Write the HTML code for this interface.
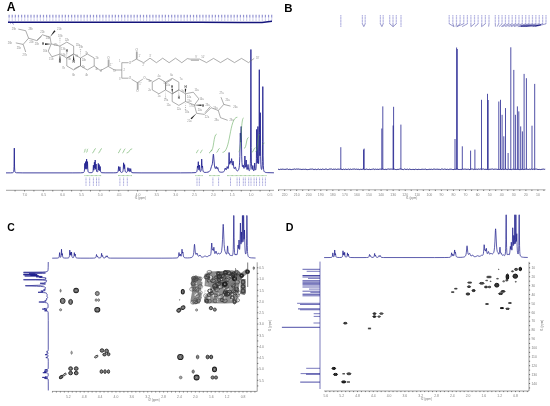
<!DOCTYPE html>
<html><head><meta charset="utf-8"><style>
html,body{margin:0;padding:0;background:#fff;}
svg{display:block;font-family:"Liberation Sans", sans-serif;}
text{opacity:0.99;}
</style></head><body>
<svg width="550" height="406" viewBox="0 0 550 406">
<defs><filter id="bl" x="-5%" y="-5%" width="110%" height="110%"><feGaussianBlur stdDeviation="0.35"/></filter></defs>
<rect width="550" height="406" fill="#fff"/>
<text x="6.7" y="10.9" font-size="12.2" fill="#000" font-weight="bold" text-anchor="start" >A</text>
<text x="284.2" y="11.9" font-size="11.4" fill="#000" font-weight="bold" text-anchor="start" >B</text>
<text x="7.2" y="230.8" font-size="10.4" fill="#000" font-weight="bold" text-anchor="start" >C</text>
<text x="285.8" y="230.5" font-size="10.7" fill="#000" font-weight="bold" text-anchor="start" >D</text>
<line x1="6" y1="190.3" x2="274" y2="190.3" stroke="#8a8a8a" stroke-width="0.8" />
<line x1="15.07" y1="190.3" x2="15.07" y2="191.4" stroke="#333" stroke-width="0.7" />
<line x1="24.5" y1="190.3" x2="24.5" y2="191.4" stroke="#333" stroke-width="0.7" />
<line x1="33.92" y1="190.3" x2="33.92" y2="191.4" stroke="#333" stroke-width="0.7" />
<line x1="43.35" y1="190.3" x2="43.35" y2="191.4" stroke="#333" stroke-width="0.7" />
<line x1="52.78" y1="190.3" x2="52.78" y2="191.4" stroke="#333" stroke-width="0.7" />
<line x1="62.2" y1="190.3" x2="62.2" y2="191.4" stroke="#333" stroke-width="0.7" />
<line x1="71.62" y1="190.3" x2="71.62" y2="191.4" stroke="#333" stroke-width="0.7" />
<line x1="81.05" y1="190.3" x2="81.05" y2="191.4" stroke="#333" stroke-width="0.7" />
<line x1="90.48" y1="190.3" x2="90.48" y2="191.4" stroke="#333" stroke-width="0.7" />
<line x1="99.9" y1="190.3" x2="99.9" y2="191.4" stroke="#333" stroke-width="0.7" />
<line x1="109.33" y1="190.3" x2="109.33" y2="191.4" stroke="#333" stroke-width="0.7" />
<line x1="118.75" y1="190.3" x2="118.75" y2="191.4" stroke="#333" stroke-width="0.7" />
<line x1="128.18" y1="190.3" x2="128.18" y2="191.4" stroke="#333" stroke-width="0.7" />
<line x1="137.6" y1="190.3" x2="137.6" y2="191.4" stroke="#333" stroke-width="0.7" />
<line x1="147.03" y1="190.3" x2="147.03" y2="191.4" stroke="#333" stroke-width="0.7" />
<line x1="156.45" y1="190.3" x2="156.45" y2="191.4" stroke="#333" stroke-width="0.7" />
<line x1="165.88" y1="190.3" x2="165.88" y2="191.4" stroke="#333" stroke-width="0.7" />
<line x1="175.3" y1="190.3" x2="175.3" y2="191.4" stroke="#333" stroke-width="0.7" />
<line x1="184.73" y1="190.3" x2="184.73" y2="191.4" stroke="#333" stroke-width="0.7" />
<line x1="194.15" y1="190.3" x2="194.15" y2="191.4" stroke="#333" stroke-width="0.7" />
<line x1="203.58" y1="190.3" x2="203.58" y2="191.4" stroke="#333" stroke-width="0.7" />
<line x1="213" y1="190.3" x2="213" y2="191.4" stroke="#333" stroke-width="0.7" />
<line x1="222.43" y1="190.3" x2="222.43" y2="191.4" stroke="#333" stroke-width="0.7" />
<line x1="231.85" y1="190.3" x2="231.85" y2="191.4" stroke="#333" stroke-width="0.7" />
<line x1="241.28" y1="190.3" x2="241.28" y2="191.4" stroke="#333" stroke-width="0.7" />
<line x1="250.7" y1="190.3" x2="250.7" y2="191.4" stroke="#333" stroke-width="0.7" />
<line x1="260.12" y1="190.3" x2="260.12" y2="191.4" stroke="#333" stroke-width="0.7" />
<line x1="269.55" y1="190.3" x2="269.55" y2="191.4" stroke="#333" stroke-width="0.7" />
<text x="24.9" y="196.3" font-size="3.5" fill="#888" font-weight="normal" text-anchor="middle" >7.0</text>
<text x="43.75" y="196.3" font-size="3.5" fill="#888" font-weight="normal" text-anchor="middle" >6.5</text>
<text x="62.6" y="196.3" font-size="3.5" fill="#888" font-weight="normal" text-anchor="middle" >6.0</text>
<text x="81.45" y="196.3" font-size="3.5" fill="#888" font-weight="normal" text-anchor="middle" >5.5</text>
<text x="100.3" y="196.3" font-size="3.5" fill="#888" font-weight="normal" text-anchor="middle" >5.0</text>
<text x="119.15" y="196.3" font-size="3.5" fill="#888" font-weight="normal" text-anchor="middle" >4.5</text>
<text x="138" y="196.3" font-size="3.5" fill="#888" font-weight="normal" text-anchor="middle" >4.0</text>
<text x="156.85" y="196.3" font-size="3.5" fill="#888" font-weight="normal" text-anchor="middle" >3.5</text>
<text x="175.7" y="196.3" font-size="3.5" fill="#888" font-weight="normal" text-anchor="middle" >3.0</text>
<text x="194.55" y="196.3" font-size="3.5" fill="#888" font-weight="normal" text-anchor="middle" >2.5</text>
<text x="213.4" y="196.3" font-size="3.5" fill="#888" font-weight="normal" text-anchor="middle" >2.0</text>
<text x="232.25" y="196.3" font-size="3.5" fill="#888" font-weight="normal" text-anchor="middle" >1.5</text>
<text x="251.1" y="196.3" font-size="3.5" fill="#888" font-weight="normal" text-anchor="middle" >1.0</text>
<text x="269.95" y="196.3" font-size="3.5" fill="#888" font-weight="normal" text-anchor="middle" >0.5</text>
<text x="140.4" y="199.2" font-size="3.0" fill="#777" font-weight="normal" text-anchor="middle" >f1 (ppm)</text>
<path d="M6,172.89 10.55,172.86 12.3,172.76 12.8,172.65 13.15,172.48 13.4,172.23 13.6,171.81 13.75,171.18 13.9,169.84 14.05,166.33 14.3,148.1 14.5,163.97 14.6,167.94 14.75,170.42 14.95,171.64 15.2,172.23 15.65,172.6 16.5,172.78 22.8,172.89 72.85,172.88 80.45,172.83 83,172.66 83.55,172.49 83.9,172.23 84.15,171.82 84.3,171.31 84.55,168.97 84.8,163.4 85.05,168.03 85.15,168.75 85.2,168.78 85.25,168.59 85.6,161.6 85.9,168.34 86,169.14 86.05,169.29 86.15,169.16 86.35,166.76 86.6,159.1 86.85,166.64 87,168.59 87.1,168.76 87.15,168.56 87.25,167.45 87.5,161.6 87.75,168.26 88,171.05 88.2,171.77 88.5,172.23 88.95,172.5 89.65,172.64 90.85,172.68 91.85,172.58 92.4,172.38 92.75,171.97 92.95,171.36 93.1,170.29 93.4,165.2 93.65,169.19 93.75,169.98 93.8,170.16 93.9,170.2 94.05,169.44 94.15,168.13 94.4,162.2 94.65,167.39 94.8,168.22 94.95,166.75 95.2,160 95.45,167.1 95.6,169.01 95.65,169.23 95.7,169.28 95.75,169.17 95.85,168.4 96.1,164 96.4,169.81 96.55,171.01 96.75,171.68 97.05,172.01 97.4,171.99 97.65,171.69 97.85,170.99 98.05,168.95 98.3,163.4 98.55,168.54 98.7,169.84 98.75,169.94 98.8,169.91 98.85,169.75 98.95,168.92 99.2,164.6 99.45,169.2 99.65,170.68 99.75,170.79 99.8,170.72 99.9,170.28 100.2,166.5 100.45,170.25 100.7,171.82 100.85,172.16 101.1,172.43 101.45,172.6 102,172.72 105.1,172.84 113.2,172.84 115.95,172.76 117.2,172.56 117.5,172.4 117.75,172.15 118.1,171.25 118.3,169.84 118.6,166.5 118.95,170 119.15,170.87 119.25,170.97 119.35,170.89 119.5,170.39 119.9,166.8 120.25,170.37 120.55,171.74 120.8,172.14 121.15,172.35 121.65,172.42 122.15,172.31 122.5,172.06 122.75,171.69 122.95,171.1 123.1,170.28 123.3,168.06 123.6,162.8 123.9,167.36 124.05,168.62 124.15,168.76 124.25,168.39 124.6,164.6 124.95,169.47 125.15,170.94 125.3,171.49 125.55,171.97 125.85,172.23 126.25,172.37 126.65,172.35 126.95,172.23 127.2,171.95 127.35,171.62 127.55,170.71 127.9,167.7 128.25,170.46 128.45,171.1 128.6,171.08 128.75,170.64 129.1,168.3 129.55,171.31 129.8,171.8 129.95,171.85 130.05,171.79 130.2,171.55 130.35,171 130.7,168.6 131.05,171.14 131.35,172.12 131.6,172.42 131.9,172.59 133,172.77 141.05,172.88 180.45,172.86 191.25,172.8 195,172.64 195.8,172.48 196.3,172.24 196.65,171.85 196.9,171.24 197.15,169.79 197.5,166 197.8,167.71 197.85,167.78 197.9,167.68 197.95,167.4 198.3,161.7 198.6,167.69 198.85,169.79 198.9,169.91 199,169.92 199.15,169.33 199.5,165.2 199.8,169.33 200,170.76 200.2,171.32 200.4,171.51 200.65,171.46 200.85,171.19 201.1,170.34 201.3,168.6 201.7,159.1 202.1,167.03 202.15,167.26 202.2,167.31 202.25,167.18 202.5,166 202.85,169.72 203.15,171.29 203.5,171.92 204.1,172.28 205.1,172.41 206.55,172.36 208.1,172.08 209.2,171.58 209.95,170.83 210.55,169.64 211.5,166.29 212.1,164.83 212.35,163.81 212.7,161.02 213.2,155.08 213.3,154.4 213.4,154.2 213.6,155.33 214.4,165.06 214.75,167.21 215.1,168.3 215.35,168.58 215.6,168.43 216.15,166.69 216.3,166.5 216.45,166.8 216.85,168.45 217.1,168.9 217.25,168.84 217.35,168.66 217.7,167.55 217.8,167.5 217.85,167.59 218.45,170.42 218.75,171.15 219.1,171.6 219.6,171.92 220.3,172.12 221.25,172.22 222.25,172.2 223.4,171.93 223.8,171.67 224.1,171.34 224.5,170.5 225.05,168.3 225.2,168 225.35,168.15 225.85,169.62 226.05,169.84 226.25,169.79 226.55,169.15 227.05,166.84 227.2,166.5 227.35,166.71 227.85,168.53 228.05,168.71 228.25,168.4 228.5,166.99 228.7,164.16 229.1,152.5 229.45,161.62 229.55,163.21 229.7,164.24 229.8,164.31 229.9,164.01 230.25,161.59 230.4,161 230.55,161.24 230.85,162.62 230.95,162.76 231.05,162.59 231.5,158.86 231.6,158.6 231.75,159.62 232.1,163.87 232.35,165.14 232.45,165.15 232.6,164.63 232.95,161.65 233.1,161.1 233.25,162.01 233.7,166.85 234.05,168.43 234.25,168.69 234.5,168.58 235.1,167.17 235.3,167 235.5,167.34 236.05,169.3 236.45,170.23 236.95,170.76 237.25,170.87 237.55,170.86 237.9,170.7 238.25,170.36 238.75,169.33 239.1,167.8 239.4,165.24 239.6,162.11 239.8,156.68 240.25,134 240.35,132.98 240.6,140.32 240.75,142.14 240.85,140.44 241.1,128.36 241.2,126.5 241.7,156.17 241.95,162.63 242.3,166.13 242.45,166.66 242.55,166.79 242.65,166.75 243.1,165.09 243.2,165 243.8,168.1 244,168.41 244.2,168.08 244.35,167.21 244.5,165.42 244.9,156 245.25,164.35 245.5,167.05 245.55,167.2 245.6,167.25 245.65,167.19 245.8,166.33 246.2,160 246.6,167.2 246.9,169.3 247,169.54 247.15,169.62 247.4,169.11 248,164.5 248.6,169.48 248.75,170.06 248.95,170.47 249.15,170.63 249.35,170.6 249.6,170.31 249.85,169.58 250.15,167.39 250.35,163.65 250.5,157.04 250.7,128.01 250.9,49.5 251.2,147.6 251.4,161.95 251.6,166.61 251.85,168.81 252.1,169.51 252.25,169.45 252.35,169.17 252.8,165.5 253.3,170.02 253.6,170.76 253.8,170.83 254,170.61 254.2,169.93 254.35,168.76 254.7,163 255,167.94 255.2,169.58 255.4,170.06 255.5,170.08 255.6,170 255.8,169.5 256,168.33 256.25,164.53 256.4,158.5 256.7,129.4 257,157.11 257.15,162.12 257.25,163.18 257.3,163.26 257.35,163.06 257.5,160.47 257.6,156.18 257.9,126.5 258.25,158.7 258.45,163.33 258.5,163.67 258.55,163.8 258.6,163.72 258.7,162.9 258.9,157.17 259.05,143.23 259.3,69.7 259.5,132.48 259.65,151.41 259.75,155.23 259.8,155.79 259.85,155.6 260,150.02 260.3,112.7 260.65,156.74 260.85,164.38 261.15,168.18 261.35,169.13 261.6,169.53 261.8,169.38 262,168.64 262.25,165.88 262.4,161.37 262.6,141.25 262.8,86.6 263.1,155.15 263.3,165.26 263.6,169.49 263.85,170.73 264.15,171.45 264.6,171.96 265.3,172.31 266.3,172.53 267.85,172.67 273.95,172.81" fill="none" stroke="#1f1f8f" stroke-width="0.85" stroke-linejoin="round"/>
<line x1="278" y1="189.8" x2="545.5" y2="189.8" stroke="#999" stroke-width="0.8" />
<line x1="278.57" y1="189.8" x2="278.57" y2="190.9" stroke="#333" stroke-width="0.7" />
<line x1="284.6" y1="189.8" x2="284.6" y2="190.9" stroke="#333" stroke-width="0.7" />
<line x1="290.63" y1="189.8" x2="290.63" y2="190.9" stroke="#333" stroke-width="0.7" />
<line x1="296.66" y1="189.8" x2="296.66" y2="190.9" stroke="#333" stroke-width="0.7" />
<line x1="302.69" y1="189.8" x2="302.69" y2="190.9" stroke="#333" stroke-width="0.7" />
<line x1="308.73" y1="189.8" x2="308.73" y2="190.9" stroke="#333" stroke-width="0.7" />
<line x1="314.76" y1="189.8" x2="314.76" y2="190.9" stroke="#333" stroke-width="0.7" />
<line x1="320.79" y1="189.8" x2="320.79" y2="190.9" stroke="#333" stroke-width="0.7" />
<line x1="326.82" y1="189.8" x2="326.82" y2="190.9" stroke="#333" stroke-width="0.7" />
<line x1="332.85" y1="189.8" x2="332.85" y2="190.9" stroke="#333" stroke-width="0.7" />
<line x1="338.88" y1="189.8" x2="338.88" y2="190.9" stroke="#333" stroke-width="0.7" />
<line x1="344.92" y1="189.8" x2="344.92" y2="190.9" stroke="#333" stroke-width="0.7" />
<line x1="350.95" y1="189.8" x2="350.95" y2="190.9" stroke="#333" stroke-width="0.7" />
<line x1="356.98" y1="189.8" x2="356.98" y2="190.9" stroke="#333" stroke-width="0.7" />
<line x1="363.01" y1="189.8" x2="363.01" y2="190.9" stroke="#333" stroke-width="0.7" />
<line x1="369.04" y1="189.8" x2="369.04" y2="190.9" stroke="#333" stroke-width="0.7" />
<line x1="375.07" y1="189.8" x2="375.07" y2="190.9" stroke="#333" stroke-width="0.7" />
<line x1="381.1" y1="189.8" x2="381.1" y2="190.9" stroke="#333" stroke-width="0.7" />
<line x1="387.14" y1="189.8" x2="387.14" y2="190.9" stroke="#333" stroke-width="0.7" />
<line x1="393.17" y1="189.8" x2="393.17" y2="190.9" stroke="#333" stroke-width="0.7" />
<line x1="399.2" y1="189.8" x2="399.2" y2="190.9" stroke="#333" stroke-width="0.7" />
<line x1="405.23" y1="189.8" x2="405.23" y2="190.9" stroke="#333" stroke-width="0.7" />
<line x1="411.26" y1="189.8" x2="411.26" y2="190.9" stroke="#333" stroke-width="0.7" />
<line x1="417.29" y1="189.8" x2="417.29" y2="190.9" stroke="#333" stroke-width="0.7" />
<line x1="423.32" y1="189.8" x2="423.32" y2="190.9" stroke="#333" stroke-width="0.7" />
<line x1="429.36" y1="189.8" x2="429.36" y2="190.9" stroke="#333" stroke-width="0.7" />
<line x1="435.39" y1="189.8" x2="435.39" y2="190.9" stroke="#333" stroke-width="0.7" />
<line x1="441.42" y1="189.8" x2="441.42" y2="190.9" stroke="#333" stroke-width="0.7" />
<line x1="447.45" y1="189.8" x2="447.45" y2="190.9" stroke="#333" stroke-width="0.7" />
<line x1="453.48" y1="189.8" x2="453.48" y2="190.9" stroke="#333" stroke-width="0.7" />
<line x1="459.51" y1="189.8" x2="459.51" y2="190.9" stroke="#333" stroke-width="0.7" />
<line x1="465.55" y1="189.8" x2="465.55" y2="190.9" stroke="#333" stroke-width="0.7" />
<line x1="471.58" y1="189.8" x2="471.58" y2="190.9" stroke="#333" stroke-width="0.7" />
<line x1="477.61" y1="189.8" x2="477.61" y2="190.9" stroke="#333" stroke-width="0.7" />
<line x1="483.64" y1="189.8" x2="483.64" y2="190.9" stroke="#333" stroke-width="0.7" />
<line x1="489.67" y1="189.8" x2="489.67" y2="190.9" stroke="#333" stroke-width="0.7" />
<line x1="495.7" y1="189.8" x2="495.7" y2="190.9" stroke="#333" stroke-width="0.7" />
<line x1="501.73" y1="189.8" x2="501.73" y2="190.9" stroke="#333" stroke-width="0.7" />
<line x1="507.77" y1="189.8" x2="507.77" y2="190.9" stroke="#333" stroke-width="0.7" />
<line x1="513.8" y1="189.8" x2="513.8" y2="190.9" stroke="#333" stroke-width="0.7" />
<line x1="519.83" y1="189.8" x2="519.83" y2="190.9" stroke="#333" stroke-width="0.7" />
<line x1="525.86" y1="189.8" x2="525.86" y2="190.9" stroke="#333" stroke-width="0.7" />
<line x1="531.89" y1="189.8" x2="531.89" y2="190.9" stroke="#333" stroke-width="0.7" />
<line x1="537.92" y1="189.8" x2="537.92" y2="190.9" stroke="#333" stroke-width="0.7" />
<line x1="543.95" y1="189.8" x2="543.95" y2="190.9" stroke="#333" stroke-width="0.7" />
<text x="284.6" y="196.2" font-size="3.5" fill="#888" font-weight="normal" text-anchor="middle" >220</text>
<text x="296.66" y="196.2" font-size="3.5" fill="#888" font-weight="normal" text-anchor="middle" >210</text>
<text x="308.73" y="196.2" font-size="3.5" fill="#888" font-weight="normal" text-anchor="middle" >200</text>
<text x="320.79" y="196.2" font-size="3.5" fill="#888" font-weight="normal" text-anchor="middle" >190</text>
<text x="332.85" y="196.2" font-size="3.5" fill="#888" font-weight="normal" text-anchor="middle" >180</text>
<text x="344.92" y="196.2" font-size="3.5" fill="#888" font-weight="normal" text-anchor="middle" >170</text>
<text x="356.98" y="196.2" font-size="3.5" fill="#888" font-weight="normal" text-anchor="middle" >160</text>
<text x="369.04" y="196.2" font-size="3.5" fill="#888" font-weight="normal" text-anchor="middle" >150</text>
<text x="381.1" y="196.2" font-size="3.5" fill="#888" font-weight="normal" text-anchor="middle" >140</text>
<text x="393.17" y="196.2" font-size="3.5" fill="#888" font-weight="normal" text-anchor="middle" >130</text>
<text x="405.23" y="196.2" font-size="3.5" fill="#888" font-weight="normal" text-anchor="middle" >120</text>
<text x="417.29" y="196.2" font-size="3.5" fill="#888" font-weight="normal" text-anchor="middle" >110</text>
<text x="429.36" y="196.2" font-size="3.5" fill="#888" font-weight="normal" text-anchor="middle" >100</text>
<text x="441.42" y="196.2" font-size="3.5" fill="#888" font-weight="normal" text-anchor="middle" >90</text>
<text x="453.48" y="196.2" font-size="3.5" fill="#888" font-weight="normal" text-anchor="middle" >80</text>
<text x="465.55" y="196.2" font-size="3.5" fill="#888" font-weight="normal" text-anchor="middle" >70</text>
<text x="477.61" y="196.2" font-size="3.5" fill="#888" font-weight="normal" text-anchor="middle" >60</text>
<text x="489.67" y="196.2" font-size="3.5" fill="#888" font-weight="normal" text-anchor="middle" >50</text>
<text x="501.73" y="196.2" font-size="3.5" fill="#888" font-weight="normal" text-anchor="middle" >40</text>
<text x="513.8" y="196.2" font-size="3.5" fill="#888" font-weight="normal" text-anchor="middle" >30</text>
<text x="525.86" y="196.2" font-size="3.5" fill="#888" font-weight="normal" text-anchor="middle" >20</text>
<text x="537.92" y="196.2" font-size="3.5" fill="#888" font-weight="normal" text-anchor="middle" >10</text>
<text x="411.8" y="199.2" font-size="3.0" fill="#777" font-weight="normal" text-anchor="middle" >f1 (ppm)</text>
<path d="M278,169.27 278.8,169.34 279.6,169.55 280.4,169.28 281.2,169.3 282,169.35 282.8,169.11 283.6,169.31 284.4,169.38 285.2,169.48 286,169.06 286.8,169.18 287.6,169.05 288.4,169.49 289.2,169.42 290,169.03 290.8,169.59 291.6,169.58 292.4,169.39 293.2,169.37 294,169.09 294.8,169.01 295.6,169.32 296.4,169.04 297.2,169.11 298,169.15 298.8,169.02 299.6,169.28 300.4,169.26 301.2,169.51 302,169.31 302.8,169.38 303.6,169.3 304.4,169.4 305.2,169.27 306,169.17 306.8,169.6 307.6,169.6 308.4,169.5 309.2,169.42 310,169.19 310.8,169.14 311.6,169.17 312.4,169.04 313.2,169.46 314,169.24 314.8,169.51 315.6,169.23 316.4,169.57 317.2,169.51 318,169 318.8,169.13 319.6,169.55 320.4,169.28 321.2,169.59 322,169.24 322.8,169.04 323.6,169.38 324.4,169.47 325.2,169.16 326,169.05 326.8,169.2 327.6,169.58 328.4,169.45 329.2,169.07 330,169.15 330.8,169.06 331.6,169.04 332.4,169.48 333.2,169.11 334,169.34 334.8,169.27 335.6,169.11 336.4,169.44 337.2,169.08 338,169.39 338.8,169.07 339.6,169.25 340.4,169.13 341.2,169.16 342,169.58 342.8,169.48 343.6,169.18 344.4,169.53 345.2,169.13 346,169.24 346.8,169.51 347.6,169.39 348.4,169.06 349.2,169.59 350,169.13 350.8,169.15 351.6,169.46 352.4,169.2 353.2,169.18 354,169.04 354.8,169.05 355.6,169.35 356.4,169.15 357.2,169.36 358,169.22 358.8,169.27 359.6,169.58 360.4,169.29 361.2,169.34 362,169.52 362.8,169.11 363.6,169.09 364.4,169.55 365.2,169.49 366,169.15 366.8,169.11 367.6,169.44 368.4,169.56 369.2,169.12 370,169.57 370.8,169.53 371.6,169.36 372.4,169.25 373.2,169.06 374,169.02 374.8,169.58 375.6,169.14 376.4,169.42 377.2,169.15 378,169.49 378.8,169.36 379.6,169.18 380.4,169.11 381.2,169.43 382,169.04 382.8,169.14 383.6,169.34 384.4,169.51 385.2,169.37 386,169.17 386.8,169.55 387.6,169.12 388.4,169.01 389.2,169.16 390,169.27 390.8,169.04 391.6,169.11 392.4,169.22 393.2,169.34 394,169.08 394.8,169.22 395.6,169.53 396.4,169.59 397.2,169.39 398,169.41 398.8,169.35 399.6,169.08 400.4,169.02 401.2,169.01 402,169.55 402.8,169.42 403.6,169.58 404.4,169.01 405.2,169.38 406,169.29 406.8,169.44 407.6,169.19 408.4,169.6 409.2,169.05 410,169.33 410.8,169.44 411.6,169.54 412.4,169.44 413.2,169.42 414,169.48 414.8,169.55 415.6,169.21 416.4,169.41 417.2,169.54 418,169.52 418.8,169.25 419.6,169.47 420.4,169.52 421.2,169.34 422,169.37 422.8,169.23 423.6,169.35 424.4,169.37 425.2,169.05 426,169.38 426.8,169.6 427.6,169.53 428.4,169.44 429.2,169.23 430,169.44 430.8,169.35 431.6,169.26 432.4,169.5 433.2,169.05 434,169.45 434.8,169.02 435.6,169.36 436.4,169.29 437.2,169.14 438,169.42 438.8,169.3 439.6,169.37 440.4,169.55 441.2,169.15 442,169.01 442.8,169.18 443.6,169.41 444.4,169.12 445.2,169.1 446,169.54 446.8,169.4 447.6,169.27 448.4,169.54 449.2,169.2 450,169.4 450.8,169.12 451.6,169.26 452.4,169.48 453.2,169.55 454,169.53 454.8,169.23 455.6,169.35 456.4,169.19 457.2,169.08 458,169.3 458.8,169.5 459.6,169.51 460.4,169.43 461.2,169.57 462,169.17 462.8,169.1 463.6,169.27 464.4,169.17 465.2,169.13 466,169.25 466.8,169.38 467.6,169.3 468.4,169.19 469.2,169.5 470,169.59 470.8,169.27 471.6,169.04 472.4,169.02 473.2,169.52 474,169.02 474.8,169.43 475.6,169.34 476.4,169.19 477.2,169.47 478,169.01 478.8,169.08 479.6,169.27 480.4,169.01 481.2,169.5 482,169.14 482.8,169.08 483.6,169.03 484.4,169.38 485.2,169.27 486,169.38 486.8,169.39 487.6,169.48 488.4,169.58 489.2,169.41 490,169.12 490.8,169.29 491.6,169.11 492.4,169.01 493.2,169.28 494,169.43 494.8,169.11 495.6,169.16 496.4,169.21 497.2,169.42 498,169.31 498.8,169.37 499.6,169.45 500.4,169.24 501.2,169.48 502,169.54 502.8,169.05 503.6,169.56 504.4,169.43 505.2,169.08 506,169.27 506.8,169.38 507.6,169.55 508.4,169.23 509.2,169.34 510,169.53 510.8,169.48 511.6,169.57 512.4,169.28 513.2,169.39 514,169.12 514.8,169.43 515.6,169.49 516.4,169.38 517.2,169.43 518,169.13 518.8,169.54 519.6,169.59 520.4,169.59 521.2,169.32 522,169.47 522.8,169.19 523.6,169.55 524.4,169.51 525.2,169.21 526,169.05 526.8,169.26 527.6,169.33 528.4,169.46 529.2,169.29 530,169.02 530.8,169.49 531.6,169.04 532.4,169.48 533.2,169.1 534,169.2 534.8,169.47 535.6,169.08 536.4,169.09 537.2,169.31 538,169.43 538.8,169.5 539.6,169.41 540.4,169.57 541.2,169.3 542,169.57 542.8,169.05 543.6,169.13 544.4,169.32 545.2,169.17" fill="none" stroke="#10107a" stroke-width="0.9"/>
<path d="M340.8,169.2 L340.8,147.2 M363.5,169.2 L363.5,149.5 M364.2,169.2 L364.2,148.6 M381.8,169.2 L381.8,128.5 M382.8,169.2 L382.8,106.4 M393.1,169.2 L393.1,125.5 M393.6,169.2 L393.6,106.8 M400.9,169.2 L400.9,124.6 M455,169.2 L455,139 M456.6,169.2 L456.6,47.5 M457.3,169.2 L457.3,49 M462.3,169.2 L462.3,146.3 M470.6,169.2 L470.6,150.6 M474.9,169.2 L474.9,149.6 M481.5,169.2 L481.5,99.8 M487.5,169.2 L487.5,93.8 M488.2,169.2 L488.2,100 M498.8,169.2 L498.8,101.5 M500.5,169.2 L500.5,99.8 M502.1,169.2 L502.1,114.8 M503.8,169.2 L503.8,136.3 M505.5,169.2 L505.5,108.1 M508.1,169.2 L508.1,153 M510.8,169.2 L510.8,47.3 M513.8,169.2 L513.8,69.9 M515.4,169.2 L515.4,114.8 M517.4,169.2 L517.4,106.4 M518.8,169.2 L518.8,111.4 M520.7,169.2 L520.7,126.4 M522.4,169.2 L522.4,131.4 M524.1,169.2 L524.1,73.9 M526.4,169.2 L526.4,78.2 M532,169.2 L532,125.7 M534.7,169.2 L534.7,83.9 " fill="none" stroke="#16168a" stroke-width="0.75"/>
<line x1="257.2" y1="262.3" x2="257.2" y2="391.4" stroke="#606060" stroke-width="0.6" />
<line x1="52.2" y1="391.4" x2="257.2" y2="391.4" stroke="#606060" stroke-width="0.6" />
<text x="259.2" y="269" font-size="3.4" fill="#808080" font-weight="normal" text-anchor="start" >0.5</text>
<text x="259.2" y="280.25" font-size="3.4" fill="#808080" font-weight="normal" text-anchor="start" >1.0</text>
<text x="259.2" y="291.5" font-size="3.4" fill="#808080" font-weight="normal" text-anchor="start" >1.5</text>
<text x="259.2" y="302.75" font-size="3.4" fill="#808080" font-weight="normal" text-anchor="start" >2.0</text>
<text x="259.2" y="314" font-size="3.4" fill="#808080" font-weight="normal" text-anchor="start" >2.5</text>
<text x="259.2" y="325.25" font-size="3.4" fill="#808080" font-weight="normal" text-anchor="start" >3.0</text>
<text x="259.2" y="336.5" font-size="3.4" fill="#808080" font-weight="normal" text-anchor="start" >3.5</text>
<text x="259.2" y="347.75" font-size="3.4" fill="#808080" font-weight="normal" text-anchor="start" >4.0</text>
<text x="259.2" y="359" font-size="3.4" fill="#808080" font-weight="normal" text-anchor="start" >4.5</text>
<text x="259.2" y="370.25" font-size="3.4" fill="#808080" font-weight="normal" text-anchor="start" >5.0</text>
<text x="259.2" y="381.5" font-size="3.4" fill="#808080" font-weight="normal" text-anchor="start" >5.5</text>
<line x1="257.2" y1="267.8" x2="258.3" y2="267.8" stroke="#333" stroke-width="0.7" />
<line x1="257.2" y1="273.43" x2="258.3" y2="273.43" stroke="#333" stroke-width="0.7" />
<line x1="257.2" y1="279.05" x2="258.3" y2="279.05" stroke="#333" stroke-width="0.7" />
<line x1="257.2" y1="284.68" x2="258.3" y2="284.68" stroke="#333" stroke-width="0.7" />
<line x1="257.2" y1="290.3" x2="258.3" y2="290.3" stroke="#333" stroke-width="0.7" />
<line x1="257.2" y1="295.93" x2="258.3" y2="295.93" stroke="#333" stroke-width="0.7" />
<line x1="257.2" y1="301.55" x2="258.3" y2="301.55" stroke="#333" stroke-width="0.7" />
<line x1="257.2" y1="307.18" x2="258.3" y2="307.18" stroke="#333" stroke-width="0.7" />
<line x1="257.2" y1="312.8" x2="258.3" y2="312.8" stroke="#333" stroke-width="0.7" />
<line x1="257.2" y1="318.43" x2="258.3" y2="318.43" stroke="#333" stroke-width="0.7" />
<line x1="257.2" y1="324.05" x2="258.3" y2="324.05" stroke="#333" stroke-width="0.7" />
<line x1="257.2" y1="329.68" x2="258.3" y2="329.68" stroke="#333" stroke-width="0.7" />
<line x1="257.2" y1="335.3" x2="258.3" y2="335.3" stroke="#333" stroke-width="0.7" />
<line x1="257.2" y1="340.93" x2="258.3" y2="340.93" stroke="#333" stroke-width="0.7" />
<line x1="257.2" y1="346.55" x2="258.3" y2="346.55" stroke="#333" stroke-width="0.7" />
<line x1="257.2" y1="352.18" x2="258.3" y2="352.18" stroke="#333" stroke-width="0.7" />
<line x1="257.2" y1="357.8" x2="258.3" y2="357.8" stroke="#333" stroke-width="0.7" />
<line x1="257.2" y1="363.43" x2="258.3" y2="363.43" stroke="#333" stroke-width="0.7" />
<line x1="257.2" y1="369.05" x2="258.3" y2="369.05" stroke="#333" stroke-width="0.7" />
<line x1="257.2" y1="374.68" x2="258.3" y2="374.68" stroke="#333" stroke-width="0.7" />
<line x1="257.2" y1="380.3" x2="258.3" y2="380.3" stroke="#333" stroke-width="0.7" />
<line x1="257.2" y1="385.93" x2="258.3" y2="385.93" stroke="#333" stroke-width="0.7" />
<text x="68.32" y="397.6" font-size="3.4" fill="#808080" font-weight="normal" text-anchor="middle" >5.2</text>
<text x="84.2" y="397.6" font-size="3.4" fill="#808080" font-weight="normal" text-anchor="middle" >4.8</text>
<text x="100.08" y="397.6" font-size="3.4" fill="#808080" font-weight="normal" text-anchor="middle" >4.4</text>
<text x="115.96" y="397.6" font-size="3.4" fill="#808080" font-weight="normal" text-anchor="middle" >4.0</text>
<text x="131.84" y="397.6" font-size="3.4" fill="#808080" font-weight="normal" text-anchor="middle" >3.6</text>
<text x="147.72" y="397.6" font-size="3.4" fill="#808080" font-weight="normal" text-anchor="middle" >3.2</text>
<text x="163.6" y="397.6" font-size="3.4" fill="#808080" font-weight="normal" text-anchor="middle" >2.8</text>
<text x="179.48" y="397.6" font-size="3.4" fill="#808080" font-weight="normal" text-anchor="middle" >2.4</text>
<text x="195.36" y="397.6" font-size="3.4" fill="#808080" font-weight="normal" text-anchor="middle" >2.0</text>
<text x="211.24" y="397.6" font-size="3.4" fill="#808080" font-weight="normal" text-anchor="middle" >1.6</text>
<text x="227.12" y="397.6" font-size="3.4" fill="#808080" font-weight="normal" text-anchor="middle" >1.2</text>
<text x="243" y="397.6" font-size="3.4" fill="#808080" font-weight="normal" text-anchor="middle" >0.8</text>
<line x1="254.91" y1="391.4" x2="254.91" y2="392.5" stroke="#333" stroke-width="0.6" />
<line x1="250.94" y1="391.4" x2="250.94" y2="392.5" stroke="#333" stroke-width="0.6" />
<line x1="246.97" y1="391.4" x2="246.97" y2="392.5" stroke="#333" stroke-width="0.6" />
<line x1="243" y1="391.4" x2="243" y2="392.5" stroke="#333" stroke-width="0.6" />
<line x1="239.03" y1="391.4" x2="239.03" y2="392.5" stroke="#333" stroke-width="0.6" />
<line x1="235.06" y1="391.4" x2="235.06" y2="392.5" stroke="#333" stroke-width="0.6" />
<line x1="231.09" y1="391.4" x2="231.09" y2="392.5" stroke="#333" stroke-width="0.6" />
<line x1="227.12" y1="391.4" x2="227.12" y2="392.5" stroke="#333" stroke-width="0.6" />
<line x1="223.15" y1="391.4" x2="223.15" y2="392.5" stroke="#333" stroke-width="0.6" />
<line x1="219.18" y1="391.4" x2="219.18" y2="392.5" stroke="#333" stroke-width="0.6" />
<line x1="215.21" y1="391.4" x2="215.21" y2="392.5" stroke="#333" stroke-width="0.6" />
<line x1="211.24" y1="391.4" x2="211.24" y2="392.5" stroke="#333" stroke-width="0.6" />
<line x1="207.27" y1="391.4" x2="207.27" y2="392.5" stroke="#333" stroke-width="0.6" />
<line x1="203.3" y1="391.4" x2="203.3" y2="392.5" stroke="#333" stroke-width="0.6" />
<line x1="199.33" y1="391.4" x2="199.33" y2="392.5" stroke="#333" stroke-width="0.6" />
<line x1="195.36" y1="391.4" x2="195.36" y2="392.5" stroke="#333" stroke-width="0.6" />
<line x1="191.39" y1="391.4" x2="191.39" y2="392.5" stroke="#333" stroke-width="0.6" />
<line x1="187.42" y1="391.4" x2="187.42" y2="392.5" stroke="#333" stroke-width="0.6" />
<line x1="183.45" y1="391.4" x2="183.45" y2="392.5" stroke="#333" stroke-width="0.6" />
<line x1="179.48" y1="391.4" x2="179.48" y2="392.5" stroke="#333" stroke-width="0.6" />
<line x1="175.51" y1="391.4" x2="175.51" y2="392.5" stroke="#333" stroke-width="0.6" />
<line x1="171.54" y1="391.4" x2="171.54" y2="392.5" stroke="#333" stroke-width="0.6" />
<line x1="167.57" y1="391.4" x2="167.57" y2="392.5" stroke="#333" stroke-width="0.6" />
<line x1="163.6" y1="391.4" x2="163.6" y2="392.5" stroke="#333" stroke-width="0.6" />
<line x1="159.63" y1="391.4" x2="159.63" y2="392.5" stroke="#333" stroke-width="0.6" />
<line x1="155.66" y1="391.4" x2="155.66" y2="392.5" stroke="#333" stroke-width="0.6" />
<line x1="151.69" y1="391.4" x2="151.69" y2="392.5" stroke="#333" stroke-width="0.6" />
<line x1="147.72" y1="391.4" x2="147.72" y2="392.5" stroke="#333" stroke-width="0.6" />
<line x1="143.75" y1="391.4" x2="143.75" y2="392.5" stroke="#333" stroke-width="0.6" />
<line x1="139.78" y1="391.4" x2="139.78" y2="392.5" stroke="#333" stroke-width="0.6" />
<line x1="135.81" y1="391.4" x2="135.81" y2="392.5" stroke="#333" stroke-width="0.6" />
<line x1="131.84" y1="391.4" x2="131.84" y2="392.5" stroke="#333" stroke-width="0.6" />
<line x1="127.87" y1="391.4" x2="127.87" y2="392.5" stroke="#333" stroke-width="0.6" />
<line x1="123.9" y1="391.4" x2="123.9" y2="392.5" stroke="#333" stroke-width="0.6" />
<line x1="119.93" y1="391.4" x2="119.93" y2="392.5" stroke="#333" stroke-width="0.6" />
<line x1="115.96" y1="391.4" x2="115.96" y2="392.5" stroke="#333" stroke-width="0.6" />
<line x1="111.99" y1="391.4" x2="111.99" y2="392.5" stroke="#333" stroke-width="0.6" />
<line x1="108.02" y1="391.4" x2="108.02" y2="392.5" stroke="#333" stroke-width="0.6" />
<line x1="104.05" y1="391.4" x2="104.05" y2="392.5" stroke="#333" stroke-width="0.6" />
<line x1="100.08" y1="391.4" x2="100.08" y2="392.5" stroke="#333" stroke-width="0.6" />
<line x1="96.11" y1="391.4" x2="96.11" y2="392.5" stroke="#333" stroke-width="0.6" />
<line x1="92.14" y1="391.4" x2="92.14" y2="392.5" stroke="#333" stroke-width="0.6" />
<line x1="88.17" y1="391.4" x2="88.17" y2="392.5" stroke="#333" stroke-width="0.6" />
<line x1="84.2" y1="391.4" x2="84.2" y2="392.5" stroke="#333" stroke-width="0.6" />
<line x1="80.23" y1="391.4" x2="80.23" y2="392.5" stroke="#333" stroke-width="0.6" />
<line x1="76.26" y1="391.4" x2="76.26" y2="392.5" stroke="#333" stroke-width="0.6" />
<line x1="72.29" y1="391.4" x2="72.29" y2="392.5" stroke="#333" stroke-width="0.6" />
<line x1="68.32" y1="391.4" x2="68.32" y2="392.5" stroke="#333" stroke-width="0.6" />
<line x1="64.35" y1="391.4" x2="64.35" y2="392.5" stroke="#333" stroke-width="0.6" />
<line x1="60.38" y1="391.4" x2="60.38" y2="392.5" stroke="#333" stroke-width="0.6" />
<line x1="56.41" y1="391.4" x2="56.41" y2="392.5" stroke="#333" stroke-width="0.6" />
<line x1="52.44" y1="391.4" x2="52.44" y2="392.5" stroke="#333" stroke-width="0.6" />
<text x="154.1" y="400.5" font-size="3.0" fill="#777" font-weight="normal" text-anchor="middle" >f2 (ppm)</text>
<text x="271" y="325.7" font-size="3.0" fill="#777" font-weight="normal" text-anchor="middle" transform="rotate(-90 271.0 325.7)">f1 (ppm)</text>
<line x1="529" y1="261.8" x2="529" y2="391" stroke="#606060" stroke-width="0.6" />
<line x1="324.1" y1="391" x2="529" y2="391" stroke="#606060" stroke-width="0.6" />
<text x="531.4" y="269" font-size="3.4" fill="#808080" font-weight="normal" text-anchor="start" >10</text>
<text x="531.4" y="277.9" font-size="3.4" fill="#808080" font-weight="normal" text-anchor="start" >20</text>
<text x="531.4" y="286.8" font-size="3.4" fill="#808080" font-weight="normal" text-anchor="start" >30</text>
<text x="531.4" y="295.7" font-size="3.4" fill="#808080" font-weight="normal" text-anchor="start" >40</text>
<text x="531.4" y="304.6" font-size="3.4" fill="#808080" font-weight="normal" text-anchor="start" >50</text>
<text x="531.4" y="313.5" font-size="3.4" fill="#808080" font-weight="normal" text-anchor="start" >60</text>
<text x="531.4" y="322.4" font-size="3.4" fill="#808080" font-weight="normal" text-anchor="start" >70</text>
<text x="531.4" y="331.3" font-size="3.4" fill="#808080" font-weight="normal" text-anchor="start" >80</text>
<text x="531.4" y="340.2" font-size="3.4" fill="#808080" font-weight="normal" text-anchor="start" >90</text>
<text x="531.4" y="349.1" font-size="3.4" fill="#808080" font-weight="normal" text-anchor="start" >100</text>
<text x="531.4" y="358" font-size="3.4" fill="#808080" font-weight="normal" text-anchor="start" >110</text>
<text x="531.4" y="366.9" font-size="3.4" fill="#808080" font-weight="normal" text-anchor="start" >120</text>
<text x="531.4" y="375.8" font-size="3.4" fill="#808080" font-weight="normal" text-anchor="start" >130</text>
<text x="531.4" y="384.7" font-size="3.4" fill="#808080" font-weight="normal" text-anchor="start" >140</text>
<line x1="529" y1="263.35" x2="530.1" y2="263.35" stroke="#333" stroke-width="0.7" />
<line x1="529" y1="267.8" x2="530.1" y2="267.8" stroke="#333" stroke-width="0.7" />
<line x1="529" y1="272.25" x2="530.1" y2="272.25" stroke="#333" stroke-width="0.7" />
<line x1="529" y1="276.7" x2="530.1" y2="276.7" stroke="#333" stroke-width="0.7" />
<line x1="529" y1="281.15" x2="530.1" y2="281.15" stroke="#333" stroke-width="0.7" />
<line x1="529" y1="285.6" x2="530.1" y2="285.6" stroke="#333" stroke-width="0.7" />
<line x1="529" y1="290.05" x2="530.1" y2="290.05" stroke="#333" stroke-width="0.7" />
<line x1="529" y1="294.5" x2="530.1" y2="294.5" stroke="#333" stroke-width="0.7" />
<line x1="529" y1="298.95" x2="530.1" y2="298.95" stroke="#333" stroke-width="0.7" />
<line x1="529" y1="303.4" x2="530.1" y2="303.4" stroke="#333" stroke-width="0.7" />
<line x1="529" y1="307.85" x2="530.1" y2="307.85" stroke="#333" stroke-width="0.7" />
<line x1="529" y1="312.3" x2="530.1" y2="312.3" stroke="#333" stroke-width="0.7" />
<line x1="529" y1="316.75" x2="530.1" y2="316.75" stroke="#333" stroke-width="0.7" />
<line x1="529" y1="321.2" x2="530.1" y2="321.2" stroke="#333" stroke-width="0.7" />
<line x1="529" y1="325.65" x2="530.1" y2="325.65" stroke="#333" stroke-width="0.7" />
<line x1="529" y1="330.1" x2="530.1" y2="330.1" stroke="#333" stroke-width="0.7" />
<line x1="529" y1="334.55" x2="530.1" y2="334.55" stroke="#333" stroke-width="0.7" />
<line x1="529" y1="339" x2="530.1" y2="339" stroke="#333" stroke-width="0.7" />
<line x1="529" y1="343.45" x2="530.1" y2="343.45" stroke="#333" stroke-width="0.7" />
<line x1="529" y1="347.9" x2="530.1" y2="347.9" stroke="#333" stroke-width="0.7" />
<line x1="529" y1="352.35" x2="530.1" y2="352.35" stroke="#333" stroke-width="0.7" />
<line x1="529" y1="356.8" x2="530.1" y2="356.8" stroke="#333" stroke-width="0.7" />
<line x1="529" y1="361.25" x2="530.1" y2="361.25" stroke="#333" stroke-width="0.7" />
<line x1="529" y1="365.7" x2="530.1" y2="365.7" stroke="#333" stroke-width="0.7" />
<line x1="529" y1="370.15" x2="530.1" y2="370.15" stroke="#333" stroke-width="0.7" />
<line x1="529" y1="374.6" x2="530.1" y2="374.6" stroke="#333" stroke-width="0.7" />
<line x1="529" y1="379.05" x2="530.1" y2="379.05" stroke="#333" stroke-width="0.7" />
<line x1="529" y1="383.5" x2="530.1" y2="383.5" stroke="#333" stroke-width="0.7" />
<line x1="529" y1="387.95" x2="530.1" y2="387.95" stroke="#333" stroke-width="0.7" />
<text x="325.9" y="397" font-size="3.4" fill="#808080" font-weight="normal" text-anchor="middle" >5.6</text>
<text x="341.7" y="397" font-size="3.4" fill="#808080" font-weight="normal" text-anchor="middle" >5.2</text>
<text x="357.5" y="397" font-size="3.4" fill="#808080" font-weight="normal" text-anchor="middle" >4.8</text>
<text x="373.3" y="397" font-size="3.4" fill="#808080" font-weight="normal" text-anchor="middle" >4.4</text>
<text x="389.1" y="397" font-size="3.4" fill="#808080" font-weight="normal" text-anchor="middle" >4.0</text>
<text x="404.9" y="397" font-size="3.4" fill="#808080" font-weight="normal" text-anchor="middle" >3.6</text>
<text x="420.7" y="397" font-size="3.4" fill="#808080" font-weight="normal" text-anchor="middle" >3.2</text>
<text x="436.5" y="397" font-size="3.4" fill="#808080" font-weight="normal" text-anchor="middle" >2.8</text>
<text x="452.3" y="397" font-size="3.4" fill="#808080" font-weight="normal" text-anchor="middle" >2.4</text>
<text x="468.1" y="397" font-size="3.4" fill="#808080" font-weight="normal" text-anchor="middle" >2.0</text>
<text x="483.9" y="397" font-size="3.4" fill="#808080" font-weight="normal" text-anchor="middle" >1.6</text>
<text x="499.7" y="397" font-size="3.4" fill="#808080" font-weight="normal" text-anchor="middle" >1.2</text>
<text x="515.5" y="397" font-size="3.4" fill="#808080" font-weight="normal" text-anchor="middle" >0.8</text>
<line x1="527.35" y1="391" x2="527.35" y2="392.1" stroke="#333" stroke-width="0.6" />
<line x1="523.4" y1="391" x2="523.4" y2="392.1" stroke="#333" stroke-width="0.6" />
<line x1="519.45" y1="391" x2="519.45" y2="392.1" stroke="#333" stroke-width="0.6" />
<line x1="515.5" y1="391" x2="515.5" y2="392.1" stroke="#333" stroke-width="0.6" />
<line x1="511.55" y1="391" x2="511.55" y2="392.1" stroke="#333" stroke-width="0.6" />
<line x1="507.6" y1="391" x2="507.6" y2="392.1" stroke="#333" stroke-width="0.6" />
<line x1="503.65" y1="391" x2="503.65" y2="392.1" stroke="#333" stroke-width="0.6" />
<line x1="499.7" y1="391" x2="499.7" y2="392.1" stroke="#333" stroke-width="0.6" />
<line x1="495.75" y1="391" x2="495.75" y2="392.1" stroke="#333" stroke-width="0.6" />
<line x1="491.8" y1="391" x2="491.8" y2="392.1" stroke="#333" stroke-width="0.6" />
<line x1="487.85" y1="391" x2="487.85" y2="392.1" stroke="#333" stroke-width="0.6" />
<line x1="483.9" y1="391" x2="483.9" y2="392.1" stroke="#333" stroke-width="0.6" />
<line x1="479.95" y1="391" x2="479.95" y2="392.1" stroke="#333" stroke-width="0.6" />
<line x1="476" y1="391" x2="476" y2="392.1" stroke="#333" stroke-width="0.6" />
<line x1="472.05" y1="391" x2="472.05" y2="392.1" stroke="#333" stroke-width="0.6" />
<line x1="468.1" y1="391" x2="468.1" y2="392.1" stroke="#333" stroke-width="0.6" />
<line x1="464.15" y1="391" x2="464.15" y2="392.1" stroke="#333" stroke-width="0.6" />
<line x1="460.2" y1="391" x2="460.2" y2="392.1" stroke="#333" stroke-width="0.6" />
<line x1="456.25" y1="391" x2="456.25" y2="392.1" stroke="#333" stroke-width="0.6" />
<line x1="452.3" y1="391" x2="452.3" y2="392.1" stroke="#333" stroke-width="0.6" />
<line x1="448.35" y1="391" x2="448.35" y2="392.1" stroke="#333" stroke-width="0.6" />
<line x1="444.4" y1="391" x2="444.4" y2="392.1" stroke="#333" stroke-width="0.6" />
<line x1="440.45" y1="391" x2="440.45" y2="392.1" stroke="#333" stroke-width="0.6" />
<line x1="436.5" y1="391" x2="436.5" y2="392.1" stroke="#333" stroke-width="0.6" />
<line x1="432.55" y1="391" x2="432.55" y2="392.1" stroke="#333" stroke-width="0.6" />
<line x1="428.6" y1="391" x2="428.6" y2="392.1" stroke="#333" stroke-width="0.6" />
<line x1="424.65" y1="391" x2="424.65" y2="392.1" stroke="#333" stroke-width="0.6" />
<line x1="420.7" y1="391" x2="420.7" y2="392.1" stroke="#333" stroke-width="0.6" />
<line x1="416.75" y1="391" x2="416.75" y2="392.1" stroke="#333" stroke-width="0.6" />
<line x1="412.8" y1="391" x2="412.8" y2="392.1" stroke="#333" stroke-width="0.6" />
<line x1="408.85" y1="391" x2="408.85" y2="392.1" stroke="#333" stroke-width="0.6" />
<line x1="404.9" y1="391" x2="404.9" y2="392.1" stroke="#333" stroke-width="0.6" />
<line x1="400.95" y1="391" x2="400.95" y2="392.1" stroke="#333" stroke-width="0.6" />
<line x1="397" y1="391" x2="397" y2="392.1" stroke="#333" stroke-width="0.6" />
<line x1="393.05" y1="391" x2="393.05" y2="392.1" stroke="#333" stroke-width="0.6" />
<line x1="389.1" y1="391" x2="389.1" y2="392.1" stroke="#333" stroke-width="0.6" />
<line x1="385.15" y1="391" x2="385.15" y2="392.1" stroke="#333" stroke-width="0.6" />
<line x1="381.2" y1="391" x2="381.2" y2="392.1" stroke="#333" stroke-width="0.6" />
<line x1="377.25" y1="391" x2="377.25" y2="392.1" stroke="#333" stroke-width="0.6" />
<line x1="373.3" y1="391" x2="373.3" y2="392.1" stroke="#333" stroke-width="0.6" />
<line x1="369.35" y1="391" x2="369.35" y2="392.1" stroke="#333" stroke-width="0.6" />
<line x1="365.4" y1="391" x2="365.4" y2="392.1" stroke="#333" stroke-width="0.6" />
<line x1="361.45" y1="391" x2="361.45" y2="392.1" stroke="#333" stroke-width="0.6" />
<line x1="357.5" y1="391" x2="357.5" y2="392.1" stroke="#333" stroke-width="0.6" />
<line x1="353.55" y1="391" x2="353.55" y2="392.1" stroke="#333" stroke-width="0.6" />
<line x1="349.6" y1="391" x2="349.6" y2="392.1" stroke="#333" stroke-width="0.6" />
<line x1="345.65" y1="391" x2="345.65" y2="392.1" stroke="#333" stroke-width="0.6" />
<line x1="341.7" y1="391" x2="341.7" y2="392.1" stroke="#333" stroke-width="0.6" />
<line x1="337.75" y1="391" x2="337.75" y2="392.1" stroke="#333" stroke-width="0.6" />
<line x1="333.8" y1="391" x2="333.8" y2="392.1" stroke="#333" stroke-width="0.6" />
<line x1="329.85" y1="391" x2="329.85" y2="392.1" stroke="#333" stroke-width="0.6" />
<line x1="325.9" y1="391" x2="325.9" y2="392.1" stroke="#333" stroke-width="0.6" />
<text x="426.4" y="400.2" font-size="3.0" fill="#777" font-weight="normal" text-anchor="middle" >f2 (ppm)</text>
<text x="542.8" y="325.2" font-size="3.0" fill="#777" font-weight="normal" text-anchor="middle" transform="rotate(-90 542.8 325.2)">f1 (ppm)</text>
<path d="M52.2,258.18 57.2,258.1 58.1,257.99 58.65,257.76 59,257.29 59.2,256.55 59.6,252.6 60.05,256.66 60.2,257.09 60.35,257.27 60.55,257.32 60.7,257.22 60.95,256.69 61.15,255.45 61.5,249.2 61.75,253.69 61.9,255 61.95,255.11 62.05,254.93 62.3,253.5 62.6,256.16 62.9,257.34 63.15,257.68 63.45,257.86 64.55,258.05 66.4,258.08 67.85,258 68.55,257.82 69,257.46 69.25,256.9 69.45,255.73 69.8,250.1 70.05,253.9 70.2,254.88 70.25,254.89 70.35,254.5 70.6,252.5 70.9,255.08 71,255.44 71.1,255.39 71.5,252 71.9,256.26 72.1,257.05 72.35,257.46 72.75,257.68 73.2,257.66 73.5,257.47 73.75,257.03 74,255.76 74.3,252.6 74.7,255.68 74.8,255.74 74.9,255.48 75.2,254 75.55,256.35 75.85,257.36 76.1,257.68 76.4,257.86 77.55,258.08 80.9,258.16 89.9,258.17 93.3,258.12 94.8,258 95.45,257.77 95.85,257.31 96.1,256.56 96.5,254.5 97,256.43 97.15,256.49 97.5,256 97.9,257.17 98.2,257.64 98.5,257.83 98.9,257.93 100.05,257.91 100.4,257.81 100.7,257.61 101.05,256.98 101.25,256.06 101.6,253.3 101.95,255.77 102.1,256.31 102.2,256.4 102.3,256.29 102.6,255.5 102.95,256.95 103.15,257.43 103.5,257.77 104.1,257.91 104.85,257.85 105.35,257.57 105.65,257.08 106.1,255.8 106.2,255.89 106.5,256.66 106.7,256.84 106.9,256.66 107.2,255.89 107.3,255.8 107.8,257.22 108.2,257.74 108.95,258.01 110.45,258.13 161.95,258.17 172.2,258.12 176.05,258.01 176.9,257.91 177.5,257.75 177.9,257.5 178.2,257.11 178.55,255.91 179,252.5 179.4,255.22 179.6,255.9 179.75,255.97 179.9,255.7 180.3,254 180.75,255.94 180.95,256.24 181.15,256.14 181.35,255.62 181.55,254.43 182,249.2 182.45,253.07 182.5,253.18 182.6,253.09 182.8,252.13 182.9,252 183.4,255.92 183.65,256.8 183.95,257.29 184.55,257.67 185.55,257.87 187.5,257.93 189.7,257.82 191.1,257.59 192.05,257.2 192.7,256.58 193.15,255.68 193.5,254.31 193.75,252.6 194.35,245.13 194.5,244.3 194.65,245.03 195.25,252.07 195.55,253.73 195.85,254.41 196,254.5 196.2,254.39 196.8,253.14 197,253 197.2,253.31 197.95,255.57 198.25,256.03 198.55,256.25 198.85,256.26 199.1,256.12 199.8,255.11 200,255 200.2,255.17 201,256.58 201.4,256.93 201.85,257.11 202.5,257.15 203.15,257.01 203.7,256.74 204.6,256.13 205,256 205.4,256.08 206.5,256.62 207.25,256.67 207.85,256.41 208.95,255.52 209.25,255.49 209.8,255.62 210.1,255.55 210.4,255.24 210.65,254.66 210.9,253.53 211.1,251.91 211.7,243 211.8,243.44 212.1,247.78 212.3,249.41 212.45,249.63 212.7,249.05 212.8,249 213.2,250.51 213.3,250.62 213.35,250.56 213.5,249.94 213.8,247.45 213.9,247.2 214.45,252.27 214.6,253.05 214.8,253.55 215,253.61 215.2,253.33 215.8,251.3 216,251 216.2,251.32 216.85,253.65 217.05,254.04 217.3,254.25 217.45,254.24 217.65,254.11 218.25,253.19 218.5,253 218.75,253.14 219.4,254 219.6,254.11 219.85,254.08 220.7,253.29 221.1,252.71 221.4,251.86 221.7,250.37 222.15,246.03 222.5,239.63 223,226.49 223.2,224.3 223.4,226.49 224.15,244.51 224.5,248.72 224.9,251.03 225.1,251.51 225.5,252 226.2,254.04 226.45,254.26 226.7,254.04 226.9,253.4 227.1,252.06 227.5,246.51 227.6,245.9 227.7,246.49 228.05,251.41 228.35,253.18 228.45,253.35 228.55,253.37 228.9,252.98 229.05,253.07 229.6,254.85 229.8,255.27 230,255.48 230.3,255.49 230.8,255.07 231,255 231.2,255.12 231.75,255.75 232.1,255.84 232.35,255.67 232.55,255.34 232.85,254.25 233.1,252.07 233.25,249.34 233.45,241.03 233.7,215.5 233.9,215.5 233.95,218.15 234.1,237.17 234.3,247.85 234.55,252.5 234.75,254.01 235,254.84 235.15,255.02 235.35,255.02 235.85,254.14 236,254 236.15,254.12 236.5,254.79 236.7,254.98 236.95,254.84 237.15,254.36 237.5,252.11 238,245 238.1,245.34 238.4,248.4 238.5,248.56 238.55,248.36 239,240 239.4,248.41 239.55,249.43 239.6,249.46 239.65,249.34 239.7,249.07 239.85,247.3 240,243.44 240.4,223 240.75,239.85 240.9,243.51 240.95,243.99 241,244.13 241.05,243.96 241.15,242.63 241.5,232 241.8,240.7 241.95,242.41 242.1,240.07 242.2,235.28 242.4,215.5 242.6,215.5 242.8,235.06 243,241.61 243.05,241.75 243.1,241.39 243.15,240.5 243.25,236.77 243.45,216.67 243.5,215.5 243.7,215.5 243.9,232.79 244.05,238.77 244.1,239.22 244.2,238.33 244.5,230 244.85,245.12 245.05,250.09 245.25,252.42 245.45,253.55 245.7,254.04 245.85,253.96 245.95,253.72 246.25,251.56 246.45,247.13 246.6,238.8 246.8,215.5 247,215.5 247.3,245.56 247.5,251.55 247.65,253.59 247.85,255.06 248.1,256.03 248.4,256.66 248.85,257.14 249.45,257.47 250.3,257.7 251.45,257.85 255.55,258.04" fill="none" stroke="#18188a" stroke-width="0.7" stroke-linejoin="round"/>
<path d="M324.1,257.59 330.15,257.53 331.2,257.44 331.8,257.27 332.15,256.96 332.4,256.32 332.8,252.89 332.9,253.23 333.25,256.21 333.5,256.75 333.7,256.85 333.9,256.78 334.15,256.37 334.35,255.39 334.7,249.99 335.1,254.84 335.15,254.96 335.25,254.86 335.5,253.6 335.85,256.09 336.1,256.86 336.35,257.15 336.65,257.31 337.75,257.48 339.6,257.5 341.05,257.43 341.8,257.25 342.2,256.94 342.45,256.41 342.6,255.68 343,250.79 343.2,253.71 343.35,254.74 343.4,254.8 343.5,254.56 343.75,252.77 344.05,254.86 344.15,255.23 344.25,255.24 344.4,254.59 344.65,252.34 345.05,255.89 345.25,256.6 345.5,256.96 345.9,257.16 346.35,257.14 346.65,256.98 346.9,256.61 347.15,255.54 347.45,252.84 347.85,255.46 347.9,255.52 348,255.43 348.35,254.03 348.7,256.06 349,256.9 349.25,257.16 349.55,257.32 350.7,257.5 354.05,257.57 363,257.57 366.4,257.53 367.85,257.43 368.5,257.23 368.9,256.83 369.15,256.17 369.45,254.66 369.55,254.45 370,256.05 370.1,256.15 370.2,256.14 370.45,255.76 370.55,255.74 370.95,256.76 371.25,257.14 371.95,257.38 373.1,257.35 373.7,257.11 374.05,256.61 374.25,255.86 374.6,253.45 374.7,253.72 374.95,255.48 375.1,255.98 375.2,256.07 375.3,255.99 375.6,255.3 375.95,256.52 376.15,256.94 376.5,257.23 377.1,257.36 377.85,257.3 378.35,257.06 378.65,256.63 379.1,255.56 379.5,256.31 379.7,256.44 379.85,256.34 380.2,255.61 380.3,255.57 380.8,256.8 381,257.07 381.3,257.28 382.05,257.46 383.45,257.54 434.5,257.57 444.8,257.53 448.65,257.44 450.1,257.23 450.5,257.03 450.8,256.71 451,256.3 451.2,255.53 451.6,252.78 451.7,252.94 452,254.97 452.2,255.62 452.35,255.71 452.5,255.52 452.9,254.03 453,254.19 453.4,255.76 453.55,255.93 453.75,255.86 453.95,255.44 454.15,254.46 454.6,249.96 454.7,250.3 455.05,253.22 455.1,253.33 455.2,253.26 455.4,252.45 455.5,252.33 456,255.66 456.25,256.41 456.55,256.83 457.15,257.15 458.15,257.32 460.1,257.37 462.3,257.27 463.7,257.08 464.6,256.76 465.25,256.23 465.7,255.46 466.05,254.29 466.3,252.82 466.9,246.45 467.05,245.78 467.2,246.46 467.8,252.45 468.1,253.83 468.4,254.39 468.55,254.46 468.75,254.35 469.3,253.35 469.5,253.17 469.75,253.49 470.5,255.4 470.8,255.78 471.1,255.95 471.4,255.95 471.65,255.81 472.3,254.99 472.5,254.88 472.75,255.07 473.55,256.26 473.9,256.51 474.35,256.67 475,256.71 475.65,256.59 476.2,256.36 477.1,255.84 477.5,255.73 477.9,255.8 479,256.26 479.75,256.29 480.35,256.07 481.4,255.33 481.7,255.29 482.3,255.4 482.6,255.33 482.85,255.1 483.1,254.62 483.4,253.42 483.6,251.89 484.15,244.69 484.25,245 484.55,248.68 484.75,250.11 484.9,250.32 485.15,249.83 485.25,249.78 485.65,251.07 485.75,251.15 485.8,251.11 485.95,250.57 486.25,248.45 486.35,248.25 486.9,252.6 487.05,253.25 487.25,253.66 487.45,253.69 487.65,253.44 488.2,251.83 488.4,251.49 488.5,251.51 488.65,251.79 489.3,253.77 489.5,254.09 489.7,254.23 490.05,254.14 490.7,253.31 490.95,253.18 491.2,253.33 491.8,254.02 492,254.12 492.25,254.11 493.1,253.44 493.5,252.95 493.8,252.24 494.1,250.98 494.55,247.32 494.9,241.88 495.4,230.66 495.6,228.79 495.8,230.67 496.55,246.04 496.85,249.21 497.25,251.38 497.45,251.85 497.9,252.35 498.55,254.01 498.8,254.24 499.05,254.11 499.25,253.64 499.45,252.61 499.85,247.96 500,247.17 500.45,252.03 500.6,252.94 500.75,253.39 500.9,253.5 501.25,253.17 501.4,253.21 502,254.83 502.35,255.28 502.65,255.31 503.35,254.88 503.55,254.97 504.1,255.51 504.45,255.6 504.7,255.46 504.9,255.18 505.25,253.99 505.5,251.76 505.65,248.86 505.85,239.62 506.1,214.8 506.2,214.8 506.25,217.03 506.4,235.98 506.6,247.52 506.85,252.34 507.05,253.84 507.3,254.67 507.5,254.91 507.7,254.89 508.2,254.13 508.35,254.03 508.85,254.73 509.1,254.87 509.3,254.72 509.5,254.28 509.85,252.21 510.3,246.47 510.35,246.36 510.4,246.51 510.7,249.16 510.8,249.43 510.9,249.08 511.3,242.18 511.4,242.93 511.7,249.08 511.85,250.11 511.9,250.18 512,249.93 512.2,247.77 512.35,243.92 512.7,227.75 512.8,229.61 513.05,241.63 513.2,244.99 513.25,245.46 513.3,245.64 513.35,245.55 513.45,244.52 513.8,235.35 514.15,243.48 514.25,244.18 514.3,243.98 514.45,240.68 514.55,235.12 514.75,214.8 514.85,214.8 515.1,237.87 515.3,243.5 515.35,243.62 515.4,243.3 515.45,242.54 515.55,239.33 515.8,215.49 515.85,214.8 515.95,214.8 516.2,236.27 516.35,241.15 516.4,241.48 516.5,240.6 516.7,234.77 516.8,233.69 517.15,246.76 517.35,250.85 517.55,252.77 517.75,253.68 518,254.07 518.15,253.97 518.25,253.75 518.45,252.74 518.6,251.08 518.8,245.72 519.1,214.8 519.25,214.8 519.55,245.6 519.75,251.5 519.9,253.44 520.1,254.81 520.35,255.7 520.65,256.26 521.05,256.65 521.65,256.95 522.5,257.16 523.65,257.3 527.75,257.46" fill="none" stroke="#18188a" stroke-width="0.7" stroke-linejoin="round"/>
<path d="M48.26,262 48.2,267.3 48.06,269.8 47.94,270.5 47.75,271 47.52,271.3 47.13,271.55 45.81,271.85 42.44,272.05 23.5,272.25 23.5,272.4 40.99,272.6 43.66,272.7 45.33,272.9 45.44,272.95 45.45,273.05 44.94,273.2 42.54,273.4 29.12,273.7 34.22,273.85 35.3,273.9 35.17,273.95 23.5,274.15 23.5,274.3 33.17,274.4 35.78,274.45 37.02,274.55 23.5,274.75 23.5,274.9 35.55,275.05 37.57,275.15 30.48,275.4 37.75,275.6 38.57,275.65 38.7,275.7 38.15,275.75 24.71,276 38.25,276.25 42.28,276.45 42.35,276.5 42.1,276.55 41.5,276.6 36.02,276.8 41.42,277.05 41.74,277.1 41.68,277.15 39.37,277.35 39.41,277.4 43.93,277.65 45.62,277.85 45.96,277.95 46.11,278.1 45.95,278.25 45.5,278.45 45.46,278.55 46.1,278.85 46.16,278.95 46.08,279.05 44.87,279.3 42.27,279.45 23.5,279.7 23.5,279.85 35.57,279.95 42.92,280.1 45.89,280.35 46.42,280.5 46.7,280.75 46.61,280.95 46.12,281.35 46.46,281.75 46.42,281.95 46.01,282.15 44.82,282.45 44.75,282.55 45.02,282.75 44.9,282.85 43.94,283 40.04,283.25 40,283.3 40.58,283.35 44.51,283.6 45.5,283.8 45.61,283.95 45.41,284.1 44.13,284.45 43.46,284.8 41.69,285.05 38.66,285.25 25.31,285.75 27.12,285.9 36.53,286.2 40.55,286.4 43.18,286.65 44.54,286.95 44.91,287.15 45.49,287.65 45.47,287.9 44.85,288.3 44.77,288.45 45.49,288.9 45.62,289.1 45.26,289.35 43.58,289.75 43.4,289.85 43.56,289.95 44.97,290.3 45.16,290.4 45.18,290.5 44.78,290.65 44.11,290.75 40.81,291.05 43.1,291.35 43.14,291.4 43.04,291.45 42.07,291.65 42.04,291.7 42.45,291.85 42.32,291.95 38,292.3 43.63,292.6 45.18,292.75 45.95,292.9 46.33,293.05 46.5,293.2 46.48,293.85 47.07,294.45 47.25,294.8 47.22,295.25 46.86,295.85 46.81,296.1 47.49,297.15 47.58,297.5 47.56,297.85 47.45,298.1 47.2,298.35 46.25,298.8 46.13,298.95 46.9,299.45 46.99,299.6 46.97,299.75 46.77,299.95 46.47,300.1 45,300.5 44.76,300.65 45.68,301.05 45.78,301.15 45.75,301.25 45.23,301.45 44.25,301.6 39.37,301.95 38.87,302.05 44.36,302.45 46.58,302.8 47.19,303.05 47.64,303.45 47.9,304 48.05,304.85 48.08,307.1 47.95,307.65 47.7,308 47.31,308.2 46.61,308.35 44.12,308.6 44.1,308.65 44.87,308.8 44.62,308.9 42.22,309.1 45.95,309.4 46.89,309.6 46.97,309.7 46.85,309.8 45.45,310.1 46.71,310.35 46.78,310.45 46.7,310.5 44.46,310.8 46.89,311.1 47.61,311.3 47.83,311.45 48.01,311.7 48.17,312.5 48.28,320.45 48.25,349.65 48.18,350.5 47.99,350.95 47.56,351.2 46.67,351.45 47.37,351.8 46.68,352.15 47.85,352.55 48.04,352.8 48.11,353.25 48.01,353.6 47.8,353.8 46.51,354.1 46.48,354.15 47.02,354.3 47.07,354.35 47.03,354.4 44.99,354.7 47.47,355 47.9,355.2 48.1,355.55 48.12,356.2 47.94,356.6 47.56,356.8 46.82,357 47.13,357.2 47.09,357.3 45.82,357.6 47.7,357.95 48.03,358.2 48.17,358.55 48.28,361.3 48.22,368.3 48.08,368.95 47.79,369.25 47.06,369.45 45.44,369.65 46.64,369.9 46.23,370 44.5,370.15 46.82,370.35 47.59,370.5 47.84,370.65 47.94,370.8 47.94,371.05 47.82,371.25 47.37,371.45 46.75,371.55 44.08,371.75 46.44,372 46.09,372.1 44.44,372.25 45.79,372.4 46.04,372.45 46,372.5 42.82,372.7 46.51,372.9 47.31,373 47.77,373.15 48.03,373.4 48.16,373.8 48.2,375.7 48.07,376.3 47.76,376.6 47.21,376.75 45.14,376.95 46.06,377.1 46.2,377.15 46.07,377.2 42.25,377.4 46.8,377.65 47.36,377.75 47.7,377.95 47.63,378.1 47.19,378.25 44.5,378.5 47.37,378.75 47.92,378.95 48.15,379.3 48.27,381.15 48.3,390.45" fill="none" stroke="#18188a" stroke-width="0.7" stroke-linejoin="round"/>
<line x1="320" y1="261.6" x2="320" y2="389" stroke="#1f1f8f" stroke-width="0.6" />
<line x1="302.5" y1="269.3" x2="320" y2="269.3" stroke="#1f1f8f" stroke-width="0.7" />
<line x1="306.7" y1="271.3" x2="320" y2="271.3" stroke="#1f1f8f" stroke-width="0.6" />
<line x1="302.5" y1="275.6" x2="320" y2="275.6" stroke="#1f1f8f" stroke-width="0.9" />
<line x1="302.5" y1="277" x2="320" y2="277" stroke="#1f1f8f" stroke-width="0.7" />
<line x1="308" y1="278.4" x2="320" y2="278.4" stroke="#1f1f8f" stroke-width="0.6" />
<line x1="302.5" y1="280.7" x2="320" y2="280.7" stroke="#1f1f8f" stroke-width="0.7" />
<line x1="302.5" y1="282.1" x2="320" y2="282.1" stroke="#1f1f8f" stroke-width="0.9" />
<line x1="302.5" y1="283.5" x2="320" y2="283.5" stroke="#1f1f8f" stroke-width="0.6" />
<line x1="302.5" y1="284.9" x2="320" y2="284.9" stroke="#1f1f8f" stroke-width="0.9" />
<line x1="302.5" y1="287" x2="320" y2="287" stroke="#1f1f8f" stroke-width="0.7" />
<line x1="309" y1="289.1" x2="320" y2="289.1" stroke="#1f1f8f" stroke-width="0.6" />
<line x1="302.5" y1="291.2" x2="320" y2="291.2" stroke="#1f1f8f" stroke-width="0.7" />
<line x1="310.4" y1="292.4" x2="320" y2="292.4" stroke="#1f1f8f" stroke-width="0.6" />
<line x1="302.5" y1="294.2" x2="320" y2="294.2" stroke="#1f1f8f" stroke-width="0.9" />
<line x1="302.5" y1="295.8" x2="320" y2="295.8" stroke="#1f1f8f" stroke-width="0.7" />
<line x1="297.1" y1="303.3" x2="320" y2="303.3" stroke="#1f1f8f" stroke-width="0.6" />
<line x1="300" y1="304.4" x2="320" y2="304.4" stroke="#1f1f8f" stroke-width="0.7" />
<line x1="298" y1="308.9" x2="320" y2="308.9" stroke="#1f1f8f" stroke-width="0.8" />
<line x1="300" y1="309.8" x2="320" y2="309.8" stroke="#1f1f8f" stroke-width="0.6" />
<line x1="313.7" y1="313.7" x2="320" y2="313.7" stroke="#1f1f8f" stroke-width="0.6" />
<line x1="313.7" y1="316.4" x2="320" y2="316.4" stroke="#1f1f8f" stroke-width="0.6" />
<line x1="313.5" y1="323" x2="320" y2="323" stroke="#1f1f8f" stroke-width="0.6" />
<line x1="281.9" y1="327.3" x2="320" y2="327.3" stroke="#1f1f8f" stroke-width="0.8" />
<line x1="306.2" y1="368.3" x2="320" y2="368.3" stroke="#1f1f8f" stroke-width="0.6" />
<line x1="300.6" y1="373.6" x2="320" y2="373.6" stroke="#1f1f8f" stroke-width="0.6" />
<line x1="306" y1="374.2" x2="320" y2="374.2" stroke="#1f1f8f" stroke-width="0.8" />
<line x1="300.2" y1="382.1" x2="320" y2="382.1" stroke="#1f1f8f" stroke-width="0.8" />
<ellipse cx="60.6" cy="290.7" rx="0.53" ry="1.32" fill="rgb(194,194,194)" stroke="rgb(75,75,75)" stroke-width="0.75"/>
<ellipse cx="76.1" cy="290.5" rx="2.29" ry="2.29" fill="rgb(154,154,154)" stroke="rgb(34,34,34)" stroke-width="1.02"/><ellipse cx="76.1" cy="290.5" rx="1.18" ry="1.18" fill="none" stroke="rgb(34,34,34)" stroke-width="0.4"/>
<ellipse cx="62.7" cy="300.9" rx="2.4" ry="2.6" fill="rgb(158,158,158)" stroke="rgb(39,39,39)" stroke-width="0.99"/><ellipse cx="62.7" cy="300.9" rx="1.22" ry="1.3" fill="none" stroke="rgb(39,39,39)" stroke-width="0.4"/>
<ellipse cx="70.6" cy="301.9" rx="1.9" ry="2.5" fill="rgb(158,158,158)" stroke="rgb(39,39,39)" stroke-width="0.99"/><ellipse cx="70.6" cy="301.9" rx="1.01" ry="1.26" fill="none" stroke="rgb(39,39,39)" stroke-width="0.4"/>
<ellipse cx="60.6" cy="309.8" rx="1.04" ry="1.04" fill="rgb(198,198,198)" stroke="rgb(79,79,79)" stroke-width="0.72"/>
<ellipse cx="97.3" cy="293.5" rx="1.98" ry="2.08" fill="rgb(180,180,180)" stroke="rgb(61,61,61)" stroke-width="0.84"/><ellipse cx="97.3" cy="293.5" rx="1.01" ry="1.05" fill="none" stroke="rgb(61,61,61)" stroke-width="0.4"/>
<ellipse cx="96.1" cy="300.1" rx="0.94" ry="1.24" fill="rgb(198,198,198)" stroke="rgb(79,79,79)" stroke-width="0.72"/>
<ellipse cx="98.6" cy="300.1" rx="0.94" ry="1.24" fill="rgb(198,198,198)" stroke="rgb(79,79,79)" stroke-width="0.72"/>
<ellipse cx="97.3" cy="309.8" rx="2.49" ry="2.29" fill="rgb(154,154,154)" stroke="rgb(34,34,34)" stroke-width="1.02"/><ellipse cx="97.3" cy="309.8" rx="1.26" ry="1.18" fill="none" stroke="rgb(34,34,34)" stroke-width="0.4"/>
<ellipse cx="71.6" cy="352.7" rx="0.66" ry="1.46" fill="rgb(202,202,202)" stroke="rgb(84,84,84)" stroke-width="0.69"/>
<ellipse cx="102" cy="350.5" rx="1.82" ry="1.72" fill="rgb(163,163,163)" stroke="rgb(43,43,43)" stroke-width="0.96"/><ellipse cx="102" cy="350.5" rx="0.97" ry="0.92" fill="none" stroke="rgb(43,43,43)" stroke-width="0.4"/>
<ellipse cx="106.6" cy="351" rx="1.82" ry="1.92" fill="rgb(163,163,163)" stroke="rgb(43,43,43)" stroke-width="0.96"/><ellipse cx="106.6" cy="351" rx="0.97" ry="1.01" fill="none" stroke="rgb(43,43,43)" stroke-width="0.4"/>
<ellipse cx="104.5" cy="354.6" rx="1.72" ry="1.32" fill="rgb(163,163,163)" stroke="rgb(43,43,43)" stroke-width="0.96"/><ellipse cx="104.5" cy="354.6" rx="0.92" ry="0.76" fill="none" stroke="rgb(43,43,43)" stroke-width="0.4"/>
<ellipse cx="108.6" cy="354.2" rx="1.33" ry="1.54" fill="rgb(167,167,167)" stroke="rgb(48,48,48)" stroke-width="0.93"/><ellipse cx="108.6" cy="354.2" rx="0.76" ry="0.84" fill="none" stroke="rgb(48,48,48)" stroke-width="0.4"/>
<ellipse cx="96.3" cy="356.6" rx="1.98" ry="0.98" fill="rgb(180,180,180)" stroke="rgb(61,61,61)" stroke-width="0.84" transform="rotate(-30 96.3 356.6)"/>
<ellipse cx="70.6" cy="368.6" rx="1.9" ry="1.8" fill="rgb(158,158,158)" stroke="rgb(39,39,39)" stroke-width="0.99"/><ellipse cx="70.6" cy="368.6" rx="1.01" ry="0.97" fill="none" stroke="rgb(39,39,39)" stroke-width="0.4"/>
<ellipse cx="76.2" cy="368.6" rx="1.9" ry="1.8" fill="rgb(158,158,158)" stroke="rgb(39,39,39)" stroke-width="0.99"/><ellipse cx="76.2" cy="368.6" rx="1.01" ry="0.97" fill="none" stroke="rgb(39,39,39)" stroke-width="0.4"/>
<ellipse cx="70.6" cy="373.1" rx="1.9" ry="1.71" fill="rgb(158,158,158)" stroke="rgb(39,39,39)" stroke-width="0.99"/><ellipse cx="70.6" cy="373.1" rx="1.01" ry="0.92" fill="none" stroke="rgb(39,39,39)" stroke-width="0.4"/>
<ellipse cx="76.2" cy="373.1" rx="1.9" ry="1.71" fill="rgb(158,158,158)" stroke="rgb(39,39,39)" stroke-width="0.99"/><ellipse cx="76.2" cy="373.1" rx="1.01" ry="0.92" fill="none" stroke="rgb(39,39,39)" stroke-width="0.4"/>
<ellipse cx="61.2" cy="377" rx="2.1" ry="1.21" fill="rgb(158,158,158)" stroke="rgb(39,39,39)" stroke-width="0.99" transform="rotate(-35 61.2 377)"/><ellipse cx="61.2" cy="377" rx="1.09" ry="0.71" fill="none" stroke="rgb(39,39,39)" stroke-width="0.4" transform="rotate(-35 61.2 377)"/>
<ellipse cx="64.8" cy="374.4" rx="1.56" ry="0.96" fill="rgb(176,176,176)" stroke="rgb(57,57,57)" stroke-width="0.87" transform="rotate(-35 64.8 374.4)"/>
<ellipse cx="101.4" cy="371.6" rx="1.33" ry="1.83" fill="rgb(167,167,167)" stroke="rgb(48,48,48)" stroke-width="0.93"/><ellipse cx="101.4" cy="371.6" rx="0.76" ry="0.97" fill="none" stroke="rgb(48,48,48)" stroke-width="0.4"/>
<ellipse cx="105" cy="371.6" rx="1.33" ry="1.83" fill="rgb(167,167,167)" stroke="rgb(48,48,48)" stroke-width="0.93"/><ellipse cx="105" cy="371.6" rx="0.76" ry="0.97" fill="none" stroke="rgb(48,48,48)" stroke-width="0.4"/>
<ellipse cx="108.5" cy="371.6" rx="1.15" ry="1.85" fill="rgb(172,172,172)" stroke="rgb(52,52,52)" stroke-width="0.9"/><ellipse cx="108.5" cy="371.6" rx="0.67" ry="0.97" fill="none" stroke="rgb(52,52,52)" stroke-width="0.4"/>
<ellipse cx="182.8" cy="291.8" rx="1.48" ry="2.27" fill="rgb(150,150,150)" stroke="rgb(30,30,30)" stroke-width="1.05"/><ellipse cx="182.8" cy="291.8" rx="0.84" ry="1.18" fill="none" stroke="rgb(30,30,30)" stroke-width="0.4"/>
<ellipse cx="179.7" cy="299.9" rx="0.3" ry="0.3" fill="rgb(202,202,202)" stroke="rgb(84,84,84)" stroke-width="0.69"/>
<ellipse cx="178.8" cy="310.3" rx="2.1" ry="1.71" fill="rgb(158,158,158)" stroke="rgb(39,39,39)" stroke-width="0.99" transform="rotate(-30 178.8 310.3)"/><ellipse cx="178.8" cy="310.3" rx="1.09" ry="0.92" fill="none" stroke="rgb(39,39,39)" stroke-width="0.4" transform="rotate(-30 178.8 310.3)"/>
<ellipse cx="183" cy="307.6" rx="2.1" ry="1.71" fill="rgb(158,158,158)" stroke="rgb(39,39,39)" stroke-width="0.99" transform="rotate(-30 183 307.6)"/><ellipse cx="183" cy="307.6" rx="1.09" ry="0.92" fill="none" stroke="rgb(39,39,39)" stroke-width="0.4" transform="rotate(-30 183 307.6)"/>
<ellipse cx="196.6" cy="310" rx="1.05" ry="1.05" fill="rgb(202,202,202)" stroke="rgb(84,84,84)" stroke-width="0.69"/>
<ellipse cx="210.9" cy="308.1" rx="1.65" ry="1.65" fill="rgb(172,172,172)" stroke="rgb(52,52,52)" stroke-width="0.9"/><ellipse cx="210.9" cy="308.1" rx="0.88" ry="0.88" fill="none" stroke="rgb(52,52,52)" stroke-width="0.4"/>
<ellipse cx="214.8" cy="309.6" rx="1.56" ry="1.56" fill="rgb(176,176,176)" stroke="rgb(57,57,57)" stroke-width="0.87"/><ellipse cx="214.8" cy="309.6" rx="0.84" ry="0.84" fill="none" stroke="rgb(57,57,57)" stroke-width="0.4"/>
<ellipse cx="253.8" cy="268.1" rx="0.62" ry="1.43" fill="rgb(194,194,194)" stroke="rgb(75,75,75)" stroke-width="0.75"/>
<ellipse cx="180.4" cy="357" rx="2.68" ry="2.58" fill="rgb(150,150,150)" stroke="rgb(30,30,30)" stroke-width="1.05"/><ellipse cx="180.4" cy="357" rx="1.34" ry="1.3" fill="none" stroke="rgb(30,30,30)" stroke-width="0.4"/>
<ellipse cx="197.6" cy="357" rx="1.29" ry="1.8" fill="rgb(185,185,185)" stroke="rgb(66,66,66)" stroke-width="0.81"/><ellipse cx="197.6" cy="357" rx="0.71" ry="0.92" fill="none" stroke="rgb(66,66,66)" stroke-width="0.4"/>
<ellipse cx="207.6" cy="357" rx="1.52" ry="1.82" fill="rgb(163,163,163)" stroke="rgb(43,43,43)" stroke-width="0.96"/><ellipse cx="207.6" cy="357" rx="0.84" ry="0.97" fill="none" stroke="rgb(43,43,43)" stroke-width="0.4"/>
<ellipse cx="211.2" cy="357" rx="1.52" ry="1.82" fill="rgb(163,163,163)" stroke="rgb(43,43,43)" stroke-width="0.96"/><ellipse cx="211.2" cy="357" rx="0.84" ry="0.97" fill="none" stroke="rgb(43,43,43)" stroke-width="0.4"/>
<ellipse cx="214.5" cy="369.4" rx="1.98" ry="2.27" fill="rgb(150,150,150)" stroke="rgb(30,30,30)" stroke-width="1.05"/><ellipse cx="214.5" cy="369.4" rx="1.05" ry="1.18" fill="none" stroke="rgb(30,30,30)" stroke-width="0.4"/>
<ellipse cx="193.2" cy="371.6" rx="1.11" ry="1.61" fill="rgb(189,189,189)" stroke="rgb(70,70,70)" stroke-width="0.78"/><ellipse cx="193.2" cy="371.6" rx="0.63" ry="0.84" fill="none" stroke="rgb(70,70,70)" stroke-width="0.4"/>
<ellipse cx="196.6" cy="377.5" rx="2.48" ry="2.38" fill="rgb(150,150,150)" stroke="rgb(30,30,30)" stroke-width="1.05"/><ellipse cx="196.6" cy="377.5" rx="1.26" ry="1.22" fill="none" stroke="rgb(30,30,30)" stroke-width="0.4"/>
<ellipse cx="180.7" cy="377.5" rx="1.37" ry="1.37" fill="rgb(207,207,207)" stroke="rgb(88,88,88)" stroke-width="0.66"/><ellipse cx="180.7" cy="377.5" rx="0.71" ry="0.71" fill="none" stroke="rgb(88,88,88)" stroke-width="0.4"/>
<ellipse cx="212.6" cy="377.5" rx="1.55" ry="1.55" fill="rgb(172,172,172)" stroke="rgb(52,52,52)" stroke-width="0.9"/><ellipse cx="212.6" cy="377.5" rx="0.84" ry="0.84" fill="none" stroke="rgb(52,52,52)" stroke-width="0.4"/>
<ellipse cx="216" cy="377.5" rx="1.55" ry="1.55" fill="rgb(172,172,172)" stroke="rgb(52,52,52)" stroke-width="0.9"/><ellipse cx="216" cy="377.5" rx="0.84" ry="0.84" fill="none" stroke="rgb(52,52,52)" stroke-width="0.4"/>
<g filter="url(#bl)">
<path d="M191.5,277 L196,275.5 L201,277 L202.5,283 L201,290 L202,297 L199.5,303.5 L193,304.5 L190.5,300.5 L192,292 L191,284 Z" fill="#8a8a8a"/>
<path d="M204.5,274 L210,271.5 L222,271 L232,270.2 L240,272 L244,276 L240,281 L239,288 L238.5,296 L237,303 L225,303.5 L210,303.2 L204,302.5 L204.5,296 L210,292 L210,287 L204.5,286 L205,280 Z" fill="#8e8e8e"/>
<path d="M240.5,279 L245.5,279 L246,293 L244.5,295 L240.5,294 Z" fill="#777"/>
<ellipse cx="226.8" cy="294.25" rx="2.4" ry="2.15" fill="none" stroke="#2e2e2e" stroke-width="0.71"/>
<ellipse cx="237.28" cy="272.87" rx="2.07" ry="2.15" fill="none" stroke="#2e2e2e" stroke-width="0.68"/>
<ellipse cx="236.53" cy="275.4" rx="2.07" ry="1.6" fill="none" stroke="#2e2e2e" stroke-width="0.64"/>
<ellipse cx="225.09" cy="272.39" rx="1.82" ry="1.62" fill="none" stroke="#2e2e2e" stroke-width="0.77"/>
<ellipse cx="231.8" cy="276.79" rx="2.4" ry="1.51" fill="none" stroke="#2e2e2e" stroke-width="0.67"/>
<ellipse cx="209.43" cy="272.05" rx="2.47" ry="1.57" fill="none" stroke="#2e2e2e" stroke-width="0.53"/>
<ellipse cx="215.13" cy="300.84" rx="2.14" ry="1.94" fill="none" stroke="#2e2e2e" stroke-width="0.52"/>
<ellipse cx="237.93" cy="292.72" rx="2.57" ry="2.11" fill="none" stroke="#2e2e2e" stroke-width="0.55"/>
<ellipse cx="217.64" cy="276.98" rx="1.75" ry="1.45" fill="none" stroke="#2e2e2e" stroke-width="0.56"/>
<ellipse cx="226.11" cy="272.1" rx="2.28" ry="1.67" fill="none" stroke="#2e2e2e" stroke-width="0.56"/>
<ellipse cx="233.65" cy="286.42" rx="1.92" ry="1.78" fill="none" stroke="#2e2e2e" stroke-width="0.7"/>
<ellipse cx="207" cy="301.25" rx="1.62" ry="2" fill="none" stroke="#2e2e2e" stroke-width="0.75"/>
<ellipse cx="205.63" cy="295.63" rx="1.97" ry="1.86" fill="none" stroke="#2e2e2e" stroke-width="0.45"/>
<ellipse cx="206.64" cy="277.43" rx="2.56" ry="1.56" fill="none" stroke="#2e2e2e" stroke-width="0.71"/>
<ellipse cx="237.54" cy="300.26" rx="1.94" ry="1.68" fill="none" stroke="#2e2e2e" stroke-width="0.63"/>
<ellipse cx="232.15" cy="275.24" rx="2.35" ry="2.04" fill="none" stroke="#2e2e2e" stroke-width="0.75"/>
<ellipse cx="206.28" cy="300.37" rx="1.69" ry="1.67" fill="none" stroke="#2e2e2e" stroke-width="0.66"/>
<ellipse cx="237.13" cy="282.2" rx="2.52" ry="1.84" fill="none" stroke="#2e2e2e" stroke-width="0.56"/>
<ellipse cx="216.09" cy="277.32" rx="1.68" ry="1.52" fill="none" stroke="#2e2e2e" stroke-width="0.69"/>
<ellipse cx="239.89" cy="276.85" rx="1.65" ry="2.19" fill="none" stroke="#2e2e2e" stroke-width="0.64"/>
<ellipse cx="219.21" cy="279.12" rx="2.19" ry="2.06" fill="none" stroke="#2e2e2e" stroke-width="0.61"/>
<ellipse cx="219.76" cy="273.67" rx="2.52" ry="1.43" fill="none" stroke="#2e2e2e" stroke-width="0.62"/>
<ellipse cx="234.35" cy="275.92" rx="2.33" ry="2.16" fill="none" stroke="#2e2e2e" stroke-width="0.67"/>
<ellipse cx="232.58" cy="275.2" rx="2.03" ry="1.52" fill="none" stroke="#2e2e2e" stroke-width="0.75"/>
<ellipse cx="215.32" cy="285.59" rx="2.6" ry="2.08" fill="none" stroke="#2e2e2e" stroke-width="0.79"/>
<ellipse cx="220.87" cy="286.64" rx="2.33" ry="1.78" fill="none" stroke="#2e2e2e" stroke-width="0.55"/>
<ellipse cx="219.13" cy="276.4" rx="1.98" ry="2.19" fill="none" stroke="#2e2e2e" stroke-width="0.79"/>
<ellipse cx="226.94" cy="286.98" rx="1.94" ry="1.47" fill="none" stroke="#2e2e2e" stroke-width="0.55"/>
<ellipse cx="232.37" cy="298.02" rx="1.96" ry="2.03" fill="none" stroke="#2e2e2e" stroke-width="0.72"/>
<ellipse cx="229.31" cy="291.92" rx="2.36" ry="1.69" fill="none" stroke="#2e2e2e" stroke-width="0.7"/>
<ellipse cx="214.83" cy="286.57" rx="2.37" ry="1.95" fill="none" stroke="#2e2e2e" stroke-width="0.55"/>
<ellipse cx="225.32" cy="272.35" rx="2.15" ry="1.6" fill="none" stroke="#2e2e2e" stroke-width="0.69"/>
<ellipse cx="221.2" cy="296.5" rx="2.25" ry="2.04" fill="none" stroke="#2e2e2e" stroke-width="0.57"/>
<ellipse cx="227.54" cy="294.13" rx="2.43" ry="1.68" fill="none" stroke="#2e2e2e" stroke-width="0.75"/>
<ellipse cx="235.45" cy="292.65" rx="2.58" ry="2.17" fill="none" stroke="#2e2e2e" stroke-width="0.63"/>
<ellipse cx="223.53" cy="276.99" rx="2.44" ry="2.15" fill="none" stroke="#2e2e2e" stroke-width="0.62"/>
<ellipse cx="229.2" cy="293.59" rx="2.33" ry="1.54" fill="none" stroke="#2e2e2e" stroke-width="0.72"/>
<ellipse cx="225.33" cy="291.97" rx="2.02" ry="1.9" fill="none" stroke="#2e2e2e" stroke-width="0.72"/>
<ellipse cx="227.29" cy="293.61" rx="1.63" ry="1.53" fill="none" stroke="#2e2e2e" stroke-width="0.6"/>
<ellipse cx="227.75" cy="278.57" rx="2.29" ry="1.9" fill="none" stroke="#2e2e2e" stroke-width="0.46"/>
<ellipse cx="221.51" cy="278.79" rx="1.65" ry="1.51" fill="none" stroke="#2e2e2e" stroke-width="0.56"/>
<ellipse cx="211.35" cy="277.8" rx="1.64" ry="1.77" fill="none" stroke="#2e2e2e" stroke-width="0.58"/>
<ellipse cx="226.41" cy="289.7" rx="1.84" ry="2.12" fill="none" stroke="#2e2e2e" stroke-width="0.45"/>
<ellipse cx="219.19" cy="280.36" rx="2.01" ry="1.49" fill="none" stroke="#2e2e2e" stroke-width="0.74"/>
<ellipse cx="218.09" cy="273.08" rx="2.21" ry="1.48" fill="none" stroke="#2e2e2e" stroke-width="0.64"/>
<ellipse cx="216.88" cy="289.43" rx="2.56" ry="2.05" fill="none" stroke="#2e2e2e" stroke-width="0.6"/>
<ellipse cx="233.45" cy="291.27" rx="1.97" ry="1.51" fill="none" stroke="#2e2e2e" stroke-width="0.66"/>
<ellipse cx="224.74" cy="300.72" rx="2.57" ry="1.89" fill="none" stroke="#2e2e2e" stroke-width="0.57"/>
<ellipse cx="236.27" cy="272.03" rx="1.71" ry="1.85" fill="none" stroke="#2e2e2e" stroke-width="0.67"/>
<ellipse cx="209.92" cy="290.88" rx="2.49" ry="1.7" fill="none" stroke="#2e2e2e" stroke-width="0.6"/>
<ellipse cx="212.92" cy="280.74" rx="2.57" ry="1.7" fill="none" stroke="#2e2e2e" stroke-width="0.79"/>
<ellipse cx="236.98" cy="289.87" rx="1.86" ry="2.18" fill="none" stroke="#2e2e2e" stroke-width="0.62"/>
<ellipse cx="219.54" cy="281.57" rx="2.58" ry="1.79" fill="none" stroke="#2e2e2e" stroke-width="0.55"/>
<ellipse cx="221.69" cy="275.66" rx="2.22" ry="1.75" fill="none" stroke="#2e2e2e" stroke-width="0.55"/>
<ellipse cx="232.36" cy="296.8" rx="1.61" ry="1.83" fill="none" stroke="#2e2e2e" stroke-width="0.55"/>
<ellipse cx="237.73" cy="295.46" rx="1.85" ry="1.61" fill="none" stroke="#2e2e2e" stroke-width="0.5"/>
<ellipse cx="226.28" cy="286.24" rx="2.24" ry="1.88" fill="none" stroke="#2e2e2e" stroke-width="0.71"/>
<ellipse cx="209.14" cy="294.81" rx="1.9" ry="1.83" fill="none" stroke="#2e2e2e" stroke-width="0.57"/>
<ellipse cx="215.39" cy="287.9" rx="2.06" ry="1.69" fill="none" stroke="#2e2e2e" stroke-width="0.71"/>
<ellipse cx="225.68" cy="273.09" rx="1.85" ry="1.76" fill="none" stroke="#2e2e2e" stroke-width="0.77"/>
<ellipse cx="236.08" cy="288.37" rx="1.61" ry="2.02" fill="none" stroke="#2e2e2e" stroke-width="0.6"/>
<ellipse cx="225.15" cy="293.25" rx="2.23" ry="1.79" fill="none" stroke="#2e2e2e" stroke-width="0.77"/>
<ellipse cx="218.49" cy="283.76" rx="2.45" ry="1.56" fill="none" stroke="#2e2e2e" stroke-width="0.55"/>
<ellipse cx="234.05" cy="273.98" rx="2.44" ry="1.96" fill="none" stroke="#2e2e2e" stroke-width="0.6"/>
<ellipse cx="215.02" cy="295.42" rx="2.51" ry="1.51" fill="none" stroke="#2e2e2e" stroke-width="0.62"/>
<ellipse cx="224.22" cy="286.93" rx="1.93" ry="1.52" fill="none" stroke="#2e2e2e" stroke-width="0.66"/>
<ellipse cx="233.41" cy="274.05" rx="1.83" ry="2.06" fill="none" stroke="#2e2e2e" stroke-width="0.73"/>
<ellipse cx="228.23" cy="272.77" rx="2.32" ry="2.18" fill="none" stroke="#2e2e2e" stroke-width="0.8"/>
<ellipse cx="229.54" cy="273.47" rx="2.44" ry="1.58" fill="none" stroke="#2e2e2e" stroke-width="0.68"/>
<ellipse cx="209.71" cy="280.77" rx="2.52" ry="1.52" fill="none" stroke="#2e2e2e" stroke-width="0.66"/>
<ellipse cx="219.49" cy="276.84" rx="2.22" ry="1.43" fill="none" stroke="#2e2e2e" stroke-width="0.49"/>
<ellipse cx="218.27" cy="274.16" rx="1.66" ry="1.86" fill="none" stroke="#2e2e2e" stroke-width="0.71"/>
<ellipse cx="235.75" cy="276.03" rx="2.03" ry="1.65" fill="none" stroke="#2e2e2e" stroke-width="0.66"/>
<ellipse cx="222.14" cy="300.16" rx="1.97" ry="1.44" fill="none" stroke="#2e2e2e" stroke-width="0.69"/>
<ellipse cx="210.29" cy="290.94" rx="2.11" ry="2.13" fill="none" stroke="#2e2e2e" stroke-width="0.64"/>
<ellipse cx="226.73" cy="279.9" rx="2.15" ry="1.6" fill="none" stroke="#2e2e2e" stroke-width="0.71"/>
<ellipse cx="223.09" cy="276.01" rx="1.83" ry="1.7" fill="none" stroke="#2e2e2e" stroke-width="0.71"/>
<ellipse cx="211.28" cy="293.4" rx="2.26" ry="1.47" fill="none" stroke="#2e2e2e" stroke-width="0.68"/>
<ellipse cx="208.19" cy="275.74" rx="2.19" ry="1.59" fill="none" stroke="#2e2e2e" stroke-width="0.76"/>
<ellipse cx="221.82" cy="281.7" rx="2.4" ry="1.42" fill="none" stroke="#2e2e2e" stroke-width="0.7"/>
<ellipse cx="206.88" cy="276.52" rx="2.55" ry="1.94" fill="none" stroke="#2e2e2e" stroke-width="0.53"/>
<ellipse cx="209.06" cy="301.18" rx="2.27" ry="2.06" fill="none" stroke="#2e2e2e" stroke-width="0.5"/>
<ellipse cx="226.87" cy="282.63" rx="1.84" ry="1.67" fill="none" stroke="#2e2e2e" stroke-width="0.66"/>
<ellipse cx="217.2" cy="283.57" rx="1.74" ry="2.06" fill="none" stroke="#2e2e2e" stroke-width="0.68"/>
<ellipse cx="233.16" cy="285" rx="2.45" ry="1.81" fill="none" stroke="#2e2e2e" stroke-width="0.66"/>
<ellipse cx="225.06" cy="294.2" rx="2" ry="1.48" fill="none" stroke="#2e2e2e" stroke-width="0.46"/>
<ellipse cx="193.82" cy="278.03" rx="2.3" ry="1.78" fill="none" stroke="#444" stroke-width="0.63"/>
<ellipse cx="192" cy="289.22" rx="2.3" ry="1.9" fill="none" stroke="#444" stroke-width="0.53"/>
<ellipse cx="196.19" cy="279.59" rx="1.64" ry="1.53" fill="none" stroke="#444" stroke-width="0.51"/>
<ellipse cx="195.47" cy="299.89" rx="1.64" ry="1.6" fill="none" stroke="#444" stroke-width="0.48"/>
<ellipse cx="193.45" cy="284.46" rx="1.71" ry="1.79" fill="none" stroke="#444" stroke-width="0.41"/>
<ellipse cx="200.32" cy="286.59" rx="2.34" ry="1.95" fill="none" stroke="#444" stroke-width="0.6"/>
<ellipse cx="196.25" cy="301.58" rx="1.61" ry="1.93" fill="none" stroke="#444" stroke-width="0.49"/>
<ellipse cx="198.07" cy="295.96" rx="1.65" ry="1.56" fill="none" stroke="#444" stroke-width="0.41"/>
<ellipse cx="194.07" cy="279.03" rx="1.86" ry="2.18" fill="none" stroke="#444" stroke-width="0.51"/>
<ellipse cx="194.81" cy="289.17" rx="1.75" ry="1.99" fill="none" stroke="#444" stroke-width="0.62"/>
<ellipse cx="193.47" cy="283.25" rx="2.1" ry="2.15" fill="none" stroke="#444" stroke-width="0.59"/>
<ellipse cx="195.88" cy="302.36" rx="1.51" ry="1.45" fill="none" stroke="#444" stroke-width="0.63"/>
<ellipse cx="195.69" cy="278.17" rx="1.99" ry="2.19" fill="none" stroke="#444" stroke-width="0.56"/>
<ellipse cx="195.15" cy="279.44" rx="1.56" ry="2.12" fill="none" stroke="#444" stroke-width="0.55"/>
<ellipse cx="200.42" cy="278.4" rx="1.72" ry="1.44" fill="none" stroke="#444" stroke-width="0.52"/>
<ellipse cx="192.54" cy="283.64" rx="1.87" ry="1.64" fill="none" stroke="#444" stroke-width="0.42"/>
<ellipse cx="192.34" cy="302.26" rx="1.66" ry="1.81" fill="none" stroke="#444" stroke-width="0.52"/>
<ellipse cx="196.78" cy="279.19" rx="1.78" ry="1.49" fill="none" stroke="#444" stroke-width="0.56"/>
<ellipse cx="200.29" cy="292.56" rx="2.27" ry="1.57" fill="none" stroke="#444" stroke-width="0.41"/>
<ellipse cx="196.86" cy="289.65" rx="2.01" ry="1.7" fill="none" stroke="#444" stroke-width="0.59"/>
<ellipse cx="198.53" cy="300.74" rx="1.78" ry="1.76" fill="none" stroke="#444" stroke-width="0.65"/>
<ellipse cx="194.02" cy="280.01" rx="1.78" ry="1.47" fill="none" stroke="#444" stroke-width="0.63"/>
<circle cx="231.33" cy="282.07" r="0.46" fill="#e2e2e2"/>
<circle cx="195.94" cy="280.1" r="0.44" fill="#e2e2e2"/>
<circle cx="212.58" cy="289.73" r="0.52" fill="#e2e2e2"/>
<circle cx="194.95" cy="293.32" r="0.42" fill="#e2e2e2"/>
<circle cx="201.59" cy="281.29" r="0.59" fill="#e2e2e2"/>
<circle cx="196.73" cy="285.2" r="0.56" fill="#e2e2e2"/>
<circle cx="228.11" cy="289.13" r="0.85" fill="#e2e2e2"/>
<circle cx="223.4" cy="295.03" r="0.69" fill="#e2e2e2"/>
<circle cx="213.22" cy="296.69" r="0.73" fill="#e2e2e2"/>
<circle cx="237.83" cy="294.11" r="0.75" fill="#e2e2e2"/>
<circle cx="204.85" cy="296.55" r="0.59" fill="#e2e2e2"/>
<circle cx="198.25" cy="274.91" r="0.48" fill="#e2e2e2"/>
<circle cx="204.6" cy="292.6" r="0.54" fill="#e2e2e2"/>
<circle cx="195.05" cy="295.15" r="0.68" fill="#e2e2e2"/>
<circle cx="193.32" cy="274.47" r="0.47" fill="#e2e2e2"/>
<circle cx="209.14" cy="297.93" r="0.87" fill="#e2e2e2"/>
<circle cx="221.38" cy="279.7" r="0.61" fill="#e2e2e2"/>
<circle cx="209.4" cy="282.58" r="0.41" fill="#e2e2e2"/>
<circle cx="220.05" cy="296.98" r="0.76" fill="#e2e2e2"/>
<circle cx="196.57" cy="288.38" r="0.49" fill="#e2e2e2"/>
<circle cx="226.05" cy="285.94" r="0.87" fill="#e2e2e2"/>
<circle cx="230.15" cy="276.43" r="0.56" fill="#e2e2e2"/>
<circle cx="235.92" cy="286.37" r="0.62" fill="#e2e2e2"/>
<circle cx="213.19" cy="295.26" r="0.87" fill="#e2e2e2"/>
<circle cx="217.56" cy="301.12" r="0.7" fill="#e2e2e2"/>
<circle cx="196.97" cy="296.61" r="0.61" fill="#e2e2e2"/>
<circle cx="194.51" cy="301.36" r="0.42" fill="#e2e2e2"/>
<circle cx="219.7" cy="286.98" r="0.84" fill="#e2e2e2"/>
<circle cx="210.85" cy="279.25" r="0.54" fill="#e2e2e2"/>
<circle cx="201.66" cy="289.31" r="0.58" fill="#e2e2e2"/>
<circle cx="228.05" cy="280.01" r="0.58" fill="#e2e2e2"/>
<circle cx="232.33" cy="297.65" r="0.71" fill="#e2e2e2"/>
<circle cx="211.24" cy="277.15" r="0.82" fill="#e2e2e2"/>
<circle cx="215.53" cy="274.09" r="0.48" fill="#e2e2e2"/>
<circle cx="196.74" cy="293.81" r="0.85" fill="#e2e2e2"/>
<circle cx="201.57" cy="296.11" r="0.56" fill="#e2e2e2"/>
<circle cx="224.78" cy="298.03" r="0.71" fill="#e2e2e2"/>
<circle cx="230.42" cy="283.92" r="0.41" fill="#e2e2e2"/>
<circle cx="216.56" cy="290.01" r="0.49" fill="#e2e2e2"/>
<circle cx="210.68" cy="282.2" r="0.41" fill="#e2e2e2"/>
<circle cx="206.98" cy="284.1" r="0.64" fill="#e2e2e2"/>
<circle cx="225.76" cy="284.57" r="0.89" fill="#e2e2e2"/>
<circle cx="231.15" cy="299.79" r="0.75" fill="#e2e2e2"/>
<circle cx="224.17" cy="288.56" r="0.8" fill="#e2e2e2"/>
<circle cx="209.41" cy="290.21" r="0.74" fill="#e2e2e2"/>
<circle cx="217.07" cy="281.24" r="0.44" fill="#e2e2e2"/>
<circle cx="196.19" cy="283.32" r="0.69" fill="#e2e2e2"/>
<circle cx="228.46" cy="293.72" r="0.55" fill="#e2e2e2"/>
<circle cx="236.6" cy="280.96" r="0.76" fill="#e2e2e2"/>
<circle cx="195.46" cy="294.85" r="0.73" fill="#e2e2e2"/>
<circle cx="237.93" cy="299.02" r="0.74" fill="#e2e2e2"/>
<circle cx="232.24" cy="294.42" r="0.71" fill="#e2e2e2"/>
<circle cx="202.02" cy="287.98" r="0.85" fill="#e2e2e2"/>
<circle cx="218.11" cy="284.41" r="0.4" fill="#e2e2e2"/>
<circle cx="210.73" cy="278.17" r="0.73" fill="#e2e2e2"/>
<circle cx="235.18" cy="299.4" r="0.71" fill="#e2e2e2"/>
<circle cx="210.56" cy="276.16" r="0.74" fill="#e2e2e2"/>
<circle cx="218.56" cy="293.74" r="0.59" fill="#e2e2e2"/>
<circle cx="234.56" cy="279.17" r="0.55" fill="#e2e2e2"/>
<circle cx="204.85" cy="291.04" r="0.85" fill="#e2e2e2"/>
<circle cx="200.04" cy="291.35" r="0.78" fill="#e2e2e2"/>
<circle cx="219.16" cy="297.08" r="0.84" fill="#e2e2e2"/>
<circle cx="226.95" cy="285.09" r="0.61" fill="#e2e2e2"/>
<circle cx="217.38" cy="299.24" r="0.55" fill="#e2e2e2"/>
<circle cx="205.48" cy="290.56" r="0.88" fill="#e2e2e2"/>
<circle cx="200.99" cy="273.88" r="0.46" fill="#e2e2e2"/>
<circle cx="219" cy="290.5" r="0.49" fill="#e2e2e2"/>
<rect x="204" y="287.2" width="6.5" height="1.3" fill="#fff"/>
<ellipse cx="243" cy="282" rx="1.9" ry="2.2" fill="#555" stroke="#333" stroke-width="0.7"/>
<ellipse cx="243" cy="282" rx="0.66" ry="0.66" fill="#aaa"/>
<ellipse cx="243" cy="286.5" rx="1.9" ry="2" fill="#555" stroke="#333" stroke-width="0.7"/>
<ellipse cx="243" cy="286.5" rx="0.66" ry="0.6" fill="#aaa"/>
<ellipse cx="243" cy="291" rx="2" ry="2.2" fill="#555" stroke="#333" stroke-width="0.7"/>
<ellipse cx="243" cy="291" rx="0.7" ry="0.66" fill="#aaa"/>
<ellipse cx="234.5" cy="301.6" rx="1.6" ry="2.4" fill="#555" stroke="#333" stroke-width="0.7"/>
<ellipse cx="234.5" cy="301.6" rx="0.56" ry="0.72" fill="#aaa"/>
<path d="M222,287 L247,268.5 L250,272 L226,289 Z" fill="#777" opacity="0.8"/>
<ellipse cx="247.5" cy="271.8" rx="2.4" ry="2.28" fill="#222"/>
<ellipse cx="247.5" cy="271.8" rx="0.72" ry="0.72" fill="#888"/>
<ellipse cx="241.6" cy="275.6" rx="2.4" ry="2.28" fill="#222"/>
<ellipse cx="241.6" cy="275.6" rx="0.72" ry="0.72" fill="#888"/>
<ellipse cx="234.5" cy="278.8" rx="2.6" ry="2.47" fill="#222"/>
<ellipse cx="234.5" cy="278.8" rx="0.78" ry="0.78" fill="#888"/>
<ellipse cx="224.8" cy="284.2" rx="2.9" ry="2.75" fill="#222"/>
<ellipse cx="224.8" cy="284.2" rx="0.87" ry="0.87" fill="#888"/>
</g>
<line x1="247.7" y1="262.5" x2="247.7" y2="287" stroke="#444" stroke-width="0.7" />
<line x1="235.5" y1="268" x2="235.5" y2="290" stroke="#555" stroke-width="0.6" />
<ellipse cx="520.3" cy="269" rx="1.3" ry="1.7" fill="rgb(40,40,40)" stroke="rgb(10,10,10)" stroke-width="1"/>
<ellipse cx="516.1" cy="269.4" rx="1.57" ry="1.07" fill="rgb(85,85,85)" stroke="rgb(40,40,40)" stroke-width="0.85"/>
<ellipse cx="512.5" cy="271.3" rx="1.1" ry="0.6" fill="rgb(100,100,100)" stroke="rgb(50,50,50)" stroke-width="0.8"/>
<ellipse cx="515.3" cy="276.2" rx="2.32" ry="2.12" fill="rgb(55,55,55)" stroke="rgb(20,20,20)" stroke-width="0.95"/>
<ellipse cx="507.4" cy="276.8" rx="1.3" ry="2.8" fill="rgb(40,40,40)" stroke="rgb(10,10,10)" stroke-width="1"/>
<ellipse cx="506.8" cy="280.2" rx="1.1" ry="0.9" fill="rgb(100,100,100)" stroke="rgb(50,50,50)" stroke-width="0.8"/>
<ellipse cx="503.7" cy="281.3" rx="1.05" ry="0.65" fill="rgb(130,130,130)" stroke="rgb(70,70,70)" stroke-width="0.7"/>
<ellipse cx="515.8" cy="281.8" rx="0.53" ry="0.43" fill="rgb(115,115,115)" stroke="rgb(60,60,60)" stroke-width="0.75"/>
<ellipse cx="498.8" cy="269.3" rx="0.25" ry="0.25" fill="rgb(100,100,100)" stroke="rgb(50,50,50)" stroke-width="0.8"/>
<ellipse cx="497.5" cy="278.7" rx="1" ry="0.3" fill="rgb(100,100,100)" stroke="rgb(50,50,50)" stroke-width="0.8"/>
<ellipse cx="489" cy="277" rx="2.38" ry="0.77" fill="rgb(85,85,85)" stroke="rgb(40,40,40)" stroke-width="0.85"/>
<ellipse cx="486.7" cy="280.5" rx="1.12" ry="0.25" fill="rgb(115,115,115)" stroke="rgb(60,60,60)" stroke-width="0.75"/>
<ellipse cx="490.6" cy="281.3" rx="0.62" ry="0.25" fill="rgb(115,115,115)" stroke="rgb(60,60,60)" stroke-width="0.75"/>
<ellipse cx="481.8" cy="283.3" rx="2.38" ry="0.88" fill="rgb(85,85,85)" stroke="rgb(40,40,40)" stroke-width="0.85"/>
<ellipse cx="486" cy="287" rx="1.55" ry="0.85" fill="rgb(70,70,70)" stroke="rgb(30,30,30)" stroke-width="0.9"/>
<ellipse cx="489.5" cy="287" rx="1.38" ry="0.77" fill="rgb(85,85,85)" stroke="rgb(40,40,40)" stroke-width="0.85"/>
<ellipse cx="496.8" cy="285.2" rx="2.12" ry="1.92" fill="rgb(55,55,55)" stroke="rgb(20,20,20)" stroke-width="0.95"/>
<ellipse cx="469.7" cy="282.6" rx="2.08" ry="0.57" fill="rgb(85,85,85)" stroke="rgb(40,40,40)" stroke-width="0.85"/>
<ellipse cx="469" cy="286.7" rx="1.57" ry="0.88" fill="rgb(85,85,85)" stroke="rgb(40,40,40)" stroke-width="0.85"/>
<ellipse cx="473.6" cy="290.6" rx="1.52" ry="1.02" fill="rgb(55,55,55)" stroke="rgb(20,20,20)" stroke-width="0.95"/>
<ellipse cx="467.9" cy="294" rx="1.85" ry="1.05" fill="rgb(70,70,70)" stroke="rgb(30,30,30)" stroke-width="0.9"/>
<ellipse cx="455.8" cy="288.7" rx="1.47" ry="0.38" fill="rgb(85,85,85)" stroke="rgb(40,40,40)" stroke-width="0.85"/>
<ellipse cx="452.7" cy="292.1" rx="1.47" ry="0.38" fill="rgb(85,85,85)" stroke="rgb(40,40,40)" stroke-width="0.85"/>
<ellipse cx="503" cy="291.4" rx="2.05" ry="0.85" fill="rgb(70,70,70)" stroke="rgb(30,30,30)" stroke-width="0.9"/>
<ellipse cx="500.6" cy="293.7" rx="2.05" ry="0.85" fill="rgb(70,70,70)" stroke="rgb(30,30,30)" stroke-width="0.9"/>
<ellipse cx="487" cy="304" rx="1.55" ry="0.35" fill="rgb(70,70,70)" stroke="rgb(30,30,30)" stroke-width="0.9"/>
<ellipse cx="509.9" cy="303" rx="1.55" ry="0.35" fill="rgb(70,70,70)" stroke="rgb(30,30,30)" stroke-width="0.9"/>
<ellipse cx="501.9" cy="308.1" rx="1.8" ry="0.5" fill="rgb(40,40,40)" stroke="rgb(10,10,10)" stroke-width="1"/>
<ellipse cx="507.6" cy="308.8" rx="1.85" ry="0.65" fill="rgb(70,70,70)" stroke="rgb(30,30,30)" stroke-width="0.9"/>
<ellipse cx="374.5" cy="313.6" rx="1.44" ry="0.84" fill="rgb(62,62,62)" stroke="rgb(25,25,25)" stroke-width="0.93"/>
<ellipse cx="381.4" cy="313.6" rx="1.8" ry="0.8" fill="rgb(100,100,100)" stroke="rgb(50,50,50)" stroke-width="0.8"/>
<ellipse cx="374.4" cy="316.6" rx="1.51" ry="0.81" fill="rgb(47,47,47)" stroke="rgb(15,15,15)" stroke-width="0.97"/>
<ellipse cx="379.1" cy="316.6" rx="1.4" ry="0.7" fill="rgb(100,100,100)" stroke="rgb(50,50,50)" stroke-width="0.8"/>
<ellipse cx="345.3" cy="323.2" rx="1.76" ry="0.86" fill="rgb(77,77,77)" stroke="rgb(35,35,35)" stroke-width="0.88"/>
<ellipse cx="369.5" cy="328.5" rx="1.57" ry="0.38" fill="rgb(85,85,85)" stroke="rgb(40,40,40)" stroke-width="0.85"/>
<ellipse cx="333.8" cy="368.4" rx="1.8" ry="1" fill="rgb(40,40,40)" stroke="rgb(10,10,10)" stroke-width="1"/>
<ellipse cx="335.5" cy="374.4" rx="2.01" ry="1.01" fill="rgb(47,47,47)" stroke="rgb(15,15,15)" stroke-width="0.97"/>
<ellipse cx="343.7" cy="373.8" rx="1.2" ry="0.25" fill="rgb(100,100,100)" stroke="rgb(50,50,50)" stroke-width="0.8"/>
<ellipse cx="348.9" cy="373.8" rx="2.08" ry="0.97" fill="rgb(85,85,85)" stroke="rgb(40,40,40)" stroke-width="0.85"/>
<ellipse cx="343.7" cy="381.9" rx="2.1" ry="1" fill="rgb(40,40,40)" stroke="rgb(10,10,10)" stroke-width="1"/>
<ellipse cx="348.4" cy="382" rx="1.61" ry="0.31" fill="rgb(107,107,107)" stroke="rgb(54,54,54)" stroke-width="0.78"/>
<path d="M66.8,42.1 L73.65,46.07 L73.65,54.02 L66.8,58 L59.95,54.02 L59.95,46.07 Z" fill="none" stroke="#686868" stroke-width="0.55" stroke-linejoin="round"/>
<path d="M73.65,54.02 L80.5,58 L80.5,65.95 L73.65,69.92 L66.8,65.95 L66.8,58 Z" fill="none" stroke="#686868" stroke-width="0.55" stroke-linejoin="round"/>
<path d="M87.35,54.02 L94.2,58 L94.2,65.95 L87.35,69.92 L80.5,65.95 L80.5,58 Z" fill="none" stroke="#686868" stroke-width="0.55" stroke-linejoin="round"/>
<line x1="79.5" y1="66.05" x2="74.25" y2="68.83" stroke="#686868" stroke-width="0.55" />
<path d="M59.95,46.07 L51.2,43.9 L48.2,51.2 L51.9,56.8 L59.95,54.02" fill="none" stroke="#686868" stroke-width="0.55" stroke-linejoin="round"/>
<path d="M51.2,43.9 L50,37.1 L42.4,34.8" fill="none" stroke="#686868" stroke-width="0.55" stroke-linejoin="round"/>
<path d="M42.4,34.8 L36.5,40.5" fill="none" stroke="#686868" stroke-width="0.55" stroke-linejoin="round"/>
<line x1="41.6" y1="36.3" x2="36.9" y2="40.9" stroke="#686868" stroke-width="0.55" />
<path d="M36.5,40.5 L28.6,38.2 L25.7,30.7 L18.3,29.1" fill="none" stroke="#686868" stroke-width="0.55" stroke-linejoin="round"/>
<path d="M28.6,38.2 L23.2,44.4 L15.8,42.9" fill="none" stroke="#686868" stroke-width="0.55" stroke-linejoin="round"/>
<path d="M23.2,44.4 L25.7,52" fill="none" stroke="#686868" stroke-width="0.55" stroke-linejoin="round"/>
<path d="M50,37.1 L55.54,31.19 L54.26,30.21 Z" fill="#222"/>
<path d="M51.2,43.9 L44.97,43.3 L45.03,44.9 Z" fill="#222"/>
<text x="43.2" y="45.4" font-size="3.0" fill="#333" font-weight="bold" text-anchor="middle" >H</text>
<line x1="59.79" y1="44.13" x2="60.11" y2="44.13" stroke="#555" stroke-width="0.45" />
<line x1="59.62" y1="42.18" x2="60.28" y2="42.18" stroke="#555" stroke-width="0.45" />
<line x1="59.46" y1="40.23" x2="60.44" y2="40.23" stroke="#555" stroke-width="0.45" />
<line x1="59.3" y1="38.28" x2="60.6" y2="38.28" stroke="#555" stroke-width="0.45" />
<line x1="80.34" y1="55.93" x2="80.66" y2="55.93" stroke="#555" stroke-width="0.45" />
<line x1="80.17" y1="53.86" x2="80.83" y2="53.86" stroke="#555" stroke-width="0.45" />
<line x1="80.01" y1="51.79" x2="80.99" y2="51.79" stroke="#555" stroke-width="0.45" />
<line x1="79.85" y1="49.72" x2="81.15" y2="49.72" stroke="#555" stroke-width="0.45" />
<line x1="66.64" y1="56.56" x2="66.96" y2="56.56" stroke="#555" stroke-width="0.45" />
<line x1="66.47" y1="55.12" x2="67.13" y2="55.12" stroke="#555" stroke-width="0.45" />
<line x1="66.31" y1="53.67" x2="67.29" y2="53.67" stroke="#555" stroke-width="0.45" />
<line x1="66.15" y1="52.23" x2="67.45" y2="52.23" stroke="#555" stroke-width="0.45" />
<text x="66.8" y="52" font-size="3.0" fill="#333" font-weight="bold" text-anchor="middle" >H</text>
<path d="M59.95,54.02 L59.2,60.5 L60.7,60.5 Z" fill="#222"/>
<text x="59.95" y="63" font-size="3.0" fill="#333" font-weight="bold" text-anchor="middle" >H</text>
<path d="M73.65,54.02 L72.9,60.5 L74.4,60.5 Z" fill="#222"/>
<text x="73.65" y="63" font-size="3.0" fill="#333" font-weight="bold" text-anchor="middle" >H</text>
<path d="M94.2,65.95 L100.5,70.6 L108.2,66.4 L114.5,70 L121.8,70" fill="none" stroke="#686868" stroke-width="0.55" stroke-linejoin="round"/>
<line x1="108.2" y1="66.4" x2="108.2" y2="59.5" stroke="#686868" stroke-width="0.55" />
<line x1="109" y1="66" x2="109" y2="59.5" stroke="#686868" stroke-width="0.55" />
<text x="108.4" y="58.9" font-size="3.0" fill="#808080" font-weight="normal" text-anchor="middle" >O</text>
<text x="100.8" y="71.8" font-size="3.0" fill="#808080" font-weight="normal" text-anchor="middle" >O</text>
<text x="114.3" y="71.6" font-size="3.0" fill="#808080" font-weight="normal" text-anchor="middle" >O</text>
<path d="M121.8,62.7 L121.8,78.2" fill="none" stroke="#686868" stroke-width="0.55" stroke-linejoin="round"/>
<path d="M121.8,62.7 L128.5,62.7" fill="none" stroke="#686868" stroke-width="0.55" stroke-linejoin="round"/>
<text x="130" y="63.8" font-size="3.0" fill="#808080" font-weight="normal" text-anchor="middle" >O</text>
<path d="M131.5,61.8 L136.4,59.1 L143.6,62.7" fill="none" stroke="#686868" stroke-width="0.55" stroke-linejoin="round"/>
<line x1="136.4" y1="59.1" x2="136.4" y2="51.5" stroke="#686868" stroke-width="0.55" />
<line x1="137.2" y1="58.7" x2="137.2" y2="51.5" stroke="#686868" stroke-width="0.55" />
<text x="136.6" y="51" font-size="3.0" fill="#808080" font-weight="normal" text-anchor="middle" >O</text>
<path d="M143.6,62.7 L150,58.2 L156.4,62.7 L162.7,58.2 L169.1,62.7 L175.5,58.2 L181.8,62.7 L187.3,58.6 L190,59.1 L199.5,59.1 L206.5,62.6 L213.5,58.4 L220.5,62.6 L227.5,58.4 L234.5,62.6 L241.5,58.4 L248.5,62.6 L254.2,58.4" fill="none" stroke="#686868" stroke-width="0.55" stroke-linejoin="round"/>
<line x1="190.8" y1="60.3" x2="199" y2="60.3" stroke="#686868" stroke-width="0.55" />
<path d="M121.8,78.2 L128.5,78.2" fill="none" stroke="#686868" stroke-width="0.55" stroke-linejoin="round"/>
<text x="130" y="79.3" font-size="3.0" fill="#808080" font-weight="normal" text-anchor="middle" >O</text>
<path d="M131.5,79.2 L137.3,82.7 L142.8,79.2" fill="none" stroke="#686868" stroke-width="0.55" stroke-linejoin="round"/>
<line x1="137.3" y1="82.7" x2="137.3" y2="89.5" stroke="#686868" stroke-width="0.55" />
<line x1="138.1" y1="82.3" x2="138.1" y2="89.5" stroke="#686868" stroke-width="0.55" />
<text x="137.5" y="92" font-size="3.0" fill="#808080" font-weight="normal" text-anchor="middle" >O</text>
<text x="144.5" y="79.3" font-size="3.0" fill="#808080" font-weight="normal" text-anchor="middle" >O</text>
<path d="M146,78.8 L152.2,81.1" fill="none" stroke="#686868" stroke-width="0.55" stroke-linejoin="round"/>
<path d="M158.9,78.3 L165.55,82.17 L165.55,89.92 L158.9,93.8 L152.25,89.92 L152.25,82.17 Z" fill="none" stroke="#686868" stroke-width="0.55" stroke-linejoin="round"/>
<path d="M172.2,78.3 L178.85,82.17 L178.85,89.92 L172.2,93.8 L165.55,89.92 L165.55,82.17 Z" fill="none" stroke="#686868" stroke-width="0.55" stroke-linejoin="round"/>
<path d="M178.85,89.92 L185.5,93.8 L185.5,101.55 L178.85,105.42 L172.2,101.55 L172.2,93.8 Z" fill="none" stroke="#686868" stroke-width="0.55" stroke-linejoin="round"/>
<line x1="166.55" y1="82.58" x2="171.8" y2="79.5" stroke="#686868" stroke-width="0.55" />
<path d="M185.5,93.8 L193.3,92.2 L198.9,98.9 L194.4,105 L185.5,101.55" fill="none" stroke="#686868" stroke-width="0.55" stroke-linejoin="round"/>
<path d="M194.4,105 L196.6,113.3 L204.4,114.4 L211.1,107.7 L218.3,110.5 L223.8,104.4 L230.5,106.1" fill="none" stroke="#686868" stroke-width="0.55" stroke-linejoin="round"/>
<line x1="205" y1="112.6" x2="210.5" y2="106.3" stroke="#686868" stroke-width="0.55" />
<path d="M223.8,104.4 L221,97.2" fill="none" stroke="#686868" stroke-width="0.55" stroke-linejoin="round"/>
<path d="M218.3,110.5 L220.5,117.7 L227.7,120.3" fill="none" stroke="#686868" stroke-width="0.55" stroke-linejoin="round"/>
<path d="M196.6,113.3 L190.53,118.23 L191.67,119.37 Z" fill="#222"/>
<path d="M194.4,105 L201.47,106.1 L201.53,104.5 Z" fill="#222"/>
<text x="203.2" y="106.5" font-size="3.0" fill="#333" font-weight="bold" text-anchor="middle" >H</text>
<line x1="185.66" y1="103.52" x2="185.34" y2="103.52" stroke="#555" stroke-width="0.45" />
<line x1="185.83" y1="105.48" x2="185.17" y2="105.48" stroke="#555" stroke-width="0.45" />
<line x1="185.99" y1="107.45" x2="185.01" y2="107.45" stroke="#555" stroke-width="0.45" />
<line x1="186.15" y1="109.41" x2="184.85" y2="109.41" stroke="#555" stroke-width="0.45" />
<line x1="165.71" y1="91.99" x2="165.39" y2="91.99" stroke="#555" stroke-width="0.45" />
<line x1="165.88" y1="94.05" x2="165.22" y2="94.05" stroke="#555" stroke-width="0.45" />
<line x1="166.04" y1="96.12" x2="165.06" y2="96.12" stroke="#555" stroke-width="0.45" />
<line x1="166.2" y1="98.18" x2="164.9" y2="98.18" stroke="#555" stroke-width="0.45" />
<path d="M172.2,93.8 L172.95,88.8 L171.45,88.8 Z" fill="#222"/>
<text x="172.2" y="87.8" font-size="3.0" fill="#333" font-weight="bold" text-anchor="middle" >H</text>
<line x1="179.01" y1="91.34" x2="178.69" y2="91.34" stroke="#555" stroke-width="0.45" />
<line x1="179.18" y1="92.75" x2="178.52" y2="92.75" stroke="#555" stroke-width="0.45" />
<line x1="179.34" y1="94.16" x2="178.36" y2="94.16" stroke="#555" stroke-width="0.45" />
<line x1="179.5" y1="95.58" x2="178.2" y2="95.58" stroke="#555" stroke-width="0.45" />
<text x="178.85" y="99.4" font-size="3.0" fill="#333" font-weight="bold" text-anchor="middle" >H</text>
<path d="M185.5,93.8 L186.25,88.8 L184.75,88.8 Z" fill="#222"/>
<text x="185.5" y="87.8" font-size="3.0" fill="#333" font-weight="bold" text-anchor="middle" >H</text>
<text x="13.9" y="30.1" font-size="2.6" fill="#909090" font-weight="normal" text-anchor="middle" >29b</text>
<text x="30.6" y="30.4" font-size="2.6" fill="#909090" font-weight="normal" text-anchor="middle" >28b</text>
<text x="9.9" y="44" font-size="2.6" fill="#909090" font-weight="normal" text-anchor="middle" >26b</text>
<text x="18.8" y="48.5" font-size="2.6" fill="#909090" font-weight="normal" text-anchor="middle" >25b</text>
<text x="24.7" y="56.4" font-size="2.6" fill="#909090" font-weight="normal" text-anchor="middle" >27b</text>
<text x="31.3" y="42.6" font-size="2.6" fill="#909090" font-weight="normal" text-anchor="middle" >24b</text>
<text x="36.8" y="45.2" font-size="2.6" fill="#909090" font-weight="normal" text-anchor="middle" >23b</text>
<text x="42.4" y="32.8" font-size="2.6" fill="#909090" font-weight="normal" text-anchor="middle" >22b</text>
<text x="47.9" y="39.2" font-size="2.6" fill="#909090" font-weight="normal" text-anchor="middle" >20b</text>
<text x="59.2" y="30.3" font-size="2.6" fill="#909090" font-weight="normal" text-anchor="middle" >21b</text>
<text x="60.2" y="36.7" font-size="2.6" fill="#909090" font-weight="normal" text-anchor="middle" >18b</text>
<text x="45.1" y="52.2" font-size="2.6" fill="#909090" font-weight="normal" text-anchor="middle" >16b</text>
<text x="51.2" y="59.6" font-size="2.6" fill="#909090" font-weight="normal" text-anchor="middle" >15b</text>
<text x="66.8" y="41.2" font-size="2.6" fill="#909090" font-weight="normal" text-anchor="middle" >12b</text>
<text x="77.8" y="46" font-size="2.6" fill="#909090" font-weight="normal" text-anchor="middle" >11b</text>
<text x="80.9" y="48.2" font-size="2.6" fill="#909090" font-weight="normal" text-anchor="middle" >19b</text>
<text x="55.6" y="46.2" font-size="2.6" fill="#909090" font-weight="normal" text-anchor="middle" >17b</text>
<text x="63.2" y="49.8" font-size="2.6" fill="#909090" font-weight="normal" text-anchor="middle" >13b</text>
<text x="63.3" y="56.2" font-size="2.6" fill="#909090" font-weight="normal" text-anchor="middle" >14b</text>
<text x="69.6" y="59.7" font-size="2.6" fill="#909090" font-weight="normal" text-anchor="middle" >8b</text>
<text x="76.8" y="56.7" font-size="2.6" fill="#909090" font-weight="normal" text-anchor="middle" >9b</text>
<text x="83.8" y="61.2" font-size="2.6" fill="#909090" font-weight="normal" text-anchor="middle" >10b</text>
<text x="83.5" y="67.7" font-size="2.6" fill="#909090" font-weight="normal" text-anchor="middle" >5b</text>
<text x="73.6" y="75.8" font-size="2.6" fill="#909090" font-weight="normal" text-anchor="middle" >6b</text>
<text x="63.5" y="68.7" font-size="2.6" fill="#909090" font-weight="normal" text-anchor="middle" >7b</text>
<text x="86.6" y="54" font-size="2.6" fill="#909090" font-weight="normal" text-anchor="middle" >1b</text>
<text x="97" y="58.9" font-size="2.6" fill="#909090" font-weight="normal" text-anchor="middle" >2b</text>
<text x="96.6" y="70.4" font-size="2.6" fill="#909090" font-weight="normal" text-anchor="middle" >3b</text>
<text x="86.6" y="75.8" font-size="2.6" fill="#909090" font-weight="normal" text-anchor="middle" >4b</text>
<text x="111.2" y="65.7" font-size="2.6" fill="#909090" font-weight="normal" text-anchor="middle" >1"</text>
<text x="119.8" y="61.7" font-size="2.6" fill="#909090" font-weight="normal" text-anchor="middle" >1</text>
<text x="124.2" y="71" font-size="2.6" fill="#909090" font-weight="normal" text-anchor="middle" >2</text>
<text x="119.8" y="79.7" font-size="2.6" fill="#909090" font-weight="normal" text-anchor="middle" >3</text>
<text x="139.5" y="56.7" font-size="2.6" fill="#909090" font-weight="normal" text-anchor="middle" >1'</text>
<text x="143.6" y="65.7" font-size="2.6" fill="#909090" font-weight="normal" text-anchor="middle" >2'</text>
<text x="150.2" y="56.6" font-size="2.6" fill="#909090" font-weight="normal" text-anchor="middle" >3'</text>
<text x="196.2" y="57.8" font-size="2.6" fill="#909090" font-weight="normal" text-anchor="middle" >9'</text>
<text x="203" y="57.8" font-size="2.6" fill="#909090" font-weight="normal" text-anchor="middle" >10'</text>
<text x="257.6" y="58.7" font-size="2.6" fill="#909090" font-weight="normal" text-anchor="middle" >18'</text>
<text x="140.5" y="85.4" font-size="2.6" fill="#909090" font-weight="normal" text-anchor="middle" >1"</text>
<text x="149.6" y="82" font-size="2.6" fill="#909090" font-weight="normal" text-anchor="middle" >3a</text>
<text x="149.6" y="91.2" font-size="2.6" fill="#909090" font-weight="normal" text-anchor="middle" >2a</text>
<text x="158.9" y="77" font-size="2.6" fill="#909090" font-weight="normal" text-anchor="middle" >4a</text>
<text x="158.9" y="97.2" font-size="2.6" fill="#909090" font-weight="normal" text-anchor="middle" >1a</text>
<text x="168" y="85.7" font-size="2.6" fill="#909090" font-weight="normal" text-anchor="middle" >10a</text>
<text x="171.6" y="75.8" font-size="2.6" fill="#909090" font-weight="normal" text-anchor="middle" >6a</text>
<text x="181" y="80" font-size="2.6" fill="#909090" font-weight="normal" text-anchor="middle" >7a</text>
<text x="166" y="101" font-size="2.6" fill="#909090" font-weight="normal" text-anchor="middle" >19a</text>
<text x="168.5" y="106.2" font-size="2.6" fill="#909090" font-weight="normal" text-anchor="middle" >11a</text>
<text x="178.8" y="110" font-size="2.6" fill="#909090" font-weight="normal" text-anchor="middle" >12a</text>
<text x="183" y="91.7" font-size="2.6" fill="#909090" font-weight="normal" text-anchor="middle" >9a</text>
<text x="189" y="97.7" font-size="2.6" fill="#909090" font-weight="normal" text-anchor="middle" >14a</text>
<text x="189.3" y="101.7" font-size="2.6" fill="#909090" font-weight="normal" text-anchor="middle" >13a</text>
<text x="196.6" y="90.8" font-size="2.6" fill="#909090" font-weight="normal" text-anchor="middle" >15a</text>
<text x="201.6" y="99.8" font-size="2.6" fill="#909090" font-weight="normal" text-anchor="middle" >16a</text>
<text x="191.5" y="107.2" font-size="2.6" fill="#909090" font-weight="normal" text-anchor="middle" >17a</text>
<text x="187.1" y="113" font-size="2.6" fill="#909090" font-weight="normal" text-anchor="middle" >18a</text>
<text x="199.8" y="111.4" font-size="2.6" fill="#909090" font-weight="normal" text-anchor="middle" >20a</text>
<text x="189.4" y="121.9" font-size="2.6" fill="#909090" font-weight="normal" text-anchor="middle" >21a</text>
<text x="207" y="118" font-size="2.6" fill="#909090" font-weight="normal" text-anchor="middle" >22a</text>
<text x="207.6" y="106.2" font-size="2.6" fill="#909090" font-weight="normal" text-anchor="middle" >23a</text>
<text x="215.5" y="109.2" font-size="2.6" fill="#909090" font-weight="normal" text-anchor="middle" >24a</text>
<text x="227.6" y="100.8" font-size="2.6" fill="#909090" font-weight="normal" text-anchor="middle" >25a</text>
<text x="235.4" y="107.5" font-size="2.6" fill="#909090" font-weight="normal" text-anchor="middle" >26a</text>
<text x="221.6" y="94.2" font-size="2.6" fill="#909090" font-weight="normal" text-anchor="middle" >27a</text>
<text x="216.6" y="120.8" font-size="2.6" fill="#909090" font-weight="normal" text-anchor="middle" >28a</text>
<text x="231.6" y="121.4" font-size="2.6" fill="#909090" font-weight="normal" text-anchor="middle" >29a</text>
<text x="164.9" y="83.5" font-size="2.6" fill="#909090" font-weight="normal" text-anchor="middle" >5a</text>
<line x1="9.1" y1="14.8" x2="9.1" y2="17.4" stroke="#9494d2" stroke-width="1.2" />
<line x1="9.1" y1="17.6" x2="9.1" y2="19.6" stroke="#b4b4e4" stroke-width="1.2" stroke-dasharray="1.0 0.5"/>
<line x1="9.1" y1="19.9" x2="9.1" y2="20.8" stroke="#7c7cc6" stroke-width="0.5" />
<line x1="12.23" y1="14.8" x2="12.23" y2="17.4" stroke="#9494d2" stroke-width="1.2" />
<line x1="12.23" y1="17.6" x2="12.23" y2="19.6" stroke="#b4b4e4" stroke-width="1.2" stroke-dasharray="1.0 0.5"/>
<line x1="12.23" y1="19.9" x2="12.23" y2="20.8" stroke="#7c7cc6" stroke-width="0.5" />
<line x1="15.35" y1="14.8" x2="15.35" y2="17.4" stroke="#9494d2" stroke-width="1.2" />
<line x1="15.35" y1="17.6" x2="15.35" y2="19.6" stroke="#b4b4e4" stroke-width="1.2" stroke-dasharray="1.0 0.5"/>
<line x1="15.35" y1="19.9" x2="15.35" y2="20.8" stroke="#7c7cc6" stroke-width="0.5" />
<line x1="18.48" y1="14.8" x2="18.48" y2="17.4" stroke="#9494d2" stroke-width="1.2" />
<line x1="18.48" y1="17.6" x2="18.48" y2="19.6" stroke="#b4b4e4" stroke-width="1.2" stroke-dasharray="1.0 0.5"/>
<line x1="18.48" y1="19.9" x2="18.48" y2="20.8" stroke="#7c7cc6" stroke-width="0.5" />
<line x1="21.6" y1="14.8" x2="21.6" y2="17.4" stroke="#9494d2" stroke-width="1.2" />
<line x1="21.6" y1="17.6" x2="21.6" y2="19.6" stroke="#b4b4e4" stroke-width="1.2" stroke-dasharray="1.0 0.5"/>
<line x1="21.6" y1="19.9" x2="21.6" y2="20.8" stroke="#7c7cc6" stroke-width="0.5" />
<line x1="24.73" y1="14.8" x2="24.73" y2="17.4" stroke="#9494d2" stroke-width="1.2" />
<line x1="24.73" y1="17.6" x2="24.73" y2="19.6" stroke="#b4b4e4" stroke-width="1.2" stroke-dasharray="1.0 0.5"/>
<line x1="24.73" y1="19.9" x2="24.73" y2="20.8" stroke="#7c7cc6" stroke-width="0.5" />
<line x1="27.86" y1="14.8" x2="27.86" y2="17.4" stroke="#9494d2" stroke-width="1.2" />
<line x1="27.86" y1="17.6" x2="27.86" y2="19.6" stroke="#b4b4e4" stroke-width="1.2" stroke-dasharray="1.0 0.5"/>
<line x1="27.86" y1="19.9" x2="27.86" y2="20.8" stroke="#7c7cc6" stroke-width="0.5" />
<line x1="30.98" y1="14.8" x2="30.98" y2="17.4" stroke="#9494d2" stroke-width="1.2" />
<line x1="30.98" y1="17.6" x2="30.98" y2="19.6" stroke="#b4b4e4" stroke-width="1.2" stroke-dasharray="1.0 0.5"/>
<line x1="30.98" y1="19.9" x2="30.98" y2="20.8" stroke="#7c7cc6" stroke-width="0.5" />
<line x1="34.11" y1="14.8" x2="34.11" y2="17.4" stroke="#9494d2" stroke-width="1.2" />
<line x1="34.11" y1="17.6" x2="34.11" y2="19.6" stroke="#b4b4e4" stroke-width="1.2" stroke-dasharray="1.0 0.5"/>
<line x1="34.11" y1="19.9" x2="34.11" y2="20.8" stroke="#7c7cc6" stroke-width="0.5" />
<line x1="37.23" y1="14.8" x2="37.23" y2="17.4" stroke="#9494d2" stroke-width="1.2" />
<line x1="37.23" y1="17.6" x2="37.23" y2="19.6" stroke="#b4b4e4" stroke-width="1.2" stroke-dasharray="1.0 0.5"/>
<line x1="37.23" y1="19.9" x2="37.23" y2="20.8" stroke="#7c7cc6" stroke-width="0.5" />
<line x1="40.36" y1="14.8" x2="40.36" y2="17.4" stroke="#9494d2" stroke-width="1.2" />
<line x1="40.36" y1="17.6" x2="40.36" y2="19.6" stroke="#b4b4e4" stroke-width="1.2" stroke-dasharray="1.0 0.5"/>
<line x1="40.36" y1="19.9" x2="40.36" y2="20.8" stroke="#7c7cc6" stroke-width="0.5" />
<line x1="43.49" y1="14.8" x2="43.49" y2="17.4" stroke="#9494d2" stroke-width="1.2" />
<line x1="43.49" y1="17.6" x2="43.49" y2="19.6" stroke="#b4b4e4" stroke-width="1.2" stroke-dasharray="1.0 0.5"/>
<line x1="43.49" y1="19.9" x2="43.49" y2="20.8" stroke="#7c7cc6" stroke-width="0.5" />
<line x1="46.61" y1="14.8" x2="46.61" y2="17.4" stroke="#9494d2" stroke-width="1.2" />
<line x1="46.61" y1="17.6" x2="46.61" y2="19.6" stroke="#b4b4e4" stroke-width="1.2" stroke-dasharray="1.0 0.5"/>
<line x1="46.61" y1="19.9" x2="46.61" y2="20.8" stroke="#7c7cc6" stroke-width="0.5" />
<line x1="49.74" y1="14.8" x2="49.74" y2="17.4" stroke="#9494d2" stroke-width="1.2" />
<line x1="49.74" y1="17.6" x2="49.74" y2="19.6" stroke="#b4b4e4" stroke-width="1.2" stroke-dasharray="1.0 0.5"/>
<line x1="49.74" y1="19.9" x2="49.74" y2="20.8" stroke="#7c7cc6" stroke-width="0.5" />
<line x1="52.86" y1="14.8" x2="52.86" y2="17.4" stroke="#9494d2" stroke-width="1.2" />
<line x1="52.86" y1="17.6" x2="52.86" y2="19.6" stroke="#b4b4e4" stroke-width="1.2" stroke-dasharray="1.0 0.5"/>
<line x1="52.86" y1="19.9" x2="52.86" y2="20.8" stroke="#7c7cc6" stroke-width="0.5" />
<line x1="55.99" y1="14.8" x2="55.99" y2="17.4" stroke="#9494d2" stroke-width="1.2" />
<line x1="55.99" y1="17.6" x2="55.99" y2="19.6" stroke="#b4b4e4" stroke-width="1.2" stroke-dasharray="1.0 0.5"/>
<line x1="55.99" y1="19.9" x2="55.99" y2="20.8" stroke="#7c7cc6" stroke-width="0.5" />
<line x1="59.12" y1="14.8" x2="59.12" y2="17.4" stroke="#9494d2" stroke-width="1.2" />
<line x1="59.12" y1="17.6" x2="59.12" y2="19.6" stroke="#b4b4e4" stroke-width="1.2" stroke-dasharray="1.0 0.5"/>
<line x1="59.12" y1="19.9" x2="59.12" y2="20.8" stroke="#7c7cc6" stroke-width="0.5" />
<line x1="62.24" y1="14.8" x2="62.24" y2="17.4" stroke="#9494d2" stroke-width="1.2" />
<line x1="62.24" y1="17.6" x2="62.24" y2="19.6" stroke="#b4b4e4" stroke-width="1.2" stroke-dasharray="1.0 0.5"/>
<line x1="62.24" y1="19.9" x2="62.24" y2="20.8" stroke="#7c7cc6" stroke-width="0.5" />
<line x1="65.37" y1="14.8" x2="65.37" y2="17.4" stroke="#9494d2" stroke-width="1.2" />
<line x1="65.37" y1="17.6" x2="65.37" y2="19.6" stroke="#b4b4e4" stroke-width="1.2" stroke-dasharray="1.0 0.5"/>
<line x1="65.37" y1="19.9" x2="65.37" y2="20.8" stroke="#7c7cc6" stroke-width="0.5" />
<line x1="68.49" y1="14.8" x2="68.49" y2="17.4" stroke="#9494d2" stroke-width="1.2" />
<line x1="68.49" y1="17.6" x2="68.49" y2="19.6" stroke="#b4b4e4" stroke-width="1.2" stroke-dasharray="1.0 0.5"/>
<line x1="68.49" y1="19.9" x2="68.49" y2="20.8" stroke="#7c7cc6" stroke-width="0.5" />
<line x1="71.62" y1="14.8" x2="71.62" y2="17.4" stroke="#9494d2" stroke-width="1.2" />
<line x1="71.62" y1="17.6" x2="71.62" y2="19.6" stroke="#b4b4e4" stroke-width="1.2" stroke-dasharray="1.0 0.5"/>
<line x1="71.62" y1="19.9" x2="71.62" y2="20.8" stroke="#7c7cc6" stroke-width="0.5" />
<line x1="74.75" y1="14.8" x2="74.75" y2="17.4" stroke="#9494d2" stroke-width="1.2" />
<line x1="74.75" y1="17.6" x2="74.75" y2="19.6" stroke="#b4b4e4" stroke-width="1.2" stroke-dasharray="1.0 0.5"/>
<line x1="74.75" y1="19.9" x2="74.75" y2="20.8" stroke="#7c7cc6" stroke-width="0.5" />
<line x1="77.87" y1="14.8" x2="77.87" y2="17.4" stroke="#9494d2" stroke-width="1.2" />
<line x1="77.87" y1="17.6" x2="77.87" y2="19.6" stroke="#b4b4e4" stroke-width="1.2" stroke-dasharray="1.0 0.5"/>
<line x1="77.87" y1="19.9" x2="77.87" y2="20.8" stroke="#7c7cc6" stroke-width="0.5" />
<line x1="81" y1="14.8" x2="81" y2="17.4" stroke="#9494d2" stroke-width="1.2" />
<line x1="81" y1="17.6" x2="81" y2="19.6" stroke="#b4b4e4" stroke-width="1.2" stroke-dasharray="1.0 0.5"/>
<line x1="81" y1="19.9" x2="81" y2="20.8" stroke="#7c7cc6" stroke-width="0.5" />
<line x1="84.12" y1="14.8" x2="84.12" y2="17.4" stroke="#9494d2" stroke-width="1.2" />
<line x1="84.12" y1="17.6" x2="84.12" y2="19.6" stroke="#b4b4e4" stroke-width="1.2" stroke-dasharray="1.0 0.5"/>
<line x1="84.12" y1="19.9" x2="84.12" y2="20.8" stroke="#7c7cc6" stroke-width="0.5" />
<line x1="87.25" y1="14.8" x2="87.25" y2="17.4" stroke="#9494d2" stroke-width="1.2" />
<line x1="87.25" y1="17.6" x2="87.25" y2="19.6" stroke="#b4b4e4" stroke-width="1.2" stroke-dasharray="1.0 0.5"/>
<line x1="87.25" y1="19.9" x2="87.25" y2="20.8" stroke="#7c7cc6" stroke-width="0.5" />
<line x1="90.38" y1="14.8" x2="90.38" y2="17.4" stroke="#9494d2" stroke-width="1.2" />
<line x1="90.38" y1="17.6" x2="90.38" y2="19.6" stroke="#b4b4e4" stroke-width="1.2" stroke-dasharray="1.0 0.5"/>
<line x1="90.38" y1="19.9" x2="90.38" y2="20.8" stroke="#7c7cc6" stroke-width="0.5" />
<line x1="93.5" y1="14.8" x2="93.5" y2="17.4" stroke="#9494d2" stroke-width="1.2" />
<line x1="93.5" y1="17.6" x2="93.5" y2="19.6" stroke="#b4b4e4" stroke-width="1.2" stroke-dasharray="1.0 0.5"/>
<line x1="93.5" y1="19.9" x2="93.5" y2="20.8" stroke="#7c7cc6" stroke-width="0.5" />
<line x1="96.63" y1="14.8" x2="96.63" y2="17.4" stroke="#9494d2" stroke-width="1.2" />
<line x1="96.63" y1="17.6" x2="96.63" y2="19.6" stroke="#b4b4e4" stroke-width="1.2" stroke-dasharray="1.0 0.5"/>
<line x1="96.63" y1="19.9" x2="96.63" y2="20.8" stroke="#7c7cc6" stroke-width="0.5" />
<line x1="99.75" y1="14.8" x2="99.75" y2="17.4" stroke="#9494d2" stroke-width="1.2" />
<line x1="99.75" y1="17.6" x2="99.75" y2="19.6" stroke="#b4b4e4" stroke-width="1.2" stroke-dasharray="1.0 0.5"/>
<line x1="99.75" y1="19.9" x2="99.75" y2="20.8" stroke="#7c7cc6" stroke-width="0.5" />
<line x1="102.88" y1="14.8" x2="102.88" y2="17.4" stroke="#9494d2" stroke-width="1.2" />
<line x1="102.88" y1="17.6" x2="102.88" y2="19.6" stroke="#b4b4e4" stroke-width="1.2" stroke-dasharray="1.0 0.5"/>
<line x1="102.88" y1="19.9" x2="102.88" y2="20.8" stroke="#7c7cc6" stroke-width="0.5" />
<line x1="106.01" y1="14.8" x2="106.01" y2="17.4" stroke="#9494d2" stroke-width="1.2" />
<line x1="106.01" y1="17.6" x2="106.01" y2="19.6" stroke="#b4b4e4" stroke-width="1.2" stroke-dasharray="1.0 0.5"/>
<line x1="106.01" y1="19.9" x2="106.01" y2="20.8" stroke="#7c7cc6" stroke-width="0.5" />
<line x1="109.13" y1="14.8" x2="109.13" y2="17.4" stroke="#9494d2" stroke-width="1.2" />
<line x1="109.13" y1="17.6" x2="109.13" y2="19.6" stroke="#b4b4e4" stroke-width="1.2" stroke-dasharray="1.0 0.5"/>
<line x1="109.13" y1="19.9" x2="109.13" y2="20.8" stroke="#7c7cc6" stroke-width="0.5" />
<line x1="112.26" y1="14.8" x2="112.26" y2="17.4" stroke="#9494d2" stroke-width="1.2" />
<line x1="112.26" y1="17.6" x2="112.26" y2="19.6" stroke="#b4b4e4" stroke-width="1.2" stroke-dasharray="1.0 0.5"/>
<line x1="112.26" y1="19.9" x2="112.26" y2="20.8" stroke="#7c7cc6" stroke-width="0.5" />
<line x1="115.38" y1="14.8" x2="115.38" y2="17.4" stroke="#9494d2" stroke-width="1.2" />
<line x1="115.38" y1="17.6" x2="115.38" y2="19.6" stroke="#b4b4e4" stroke-width="1.2" stroke-dasharray="1.0 0.5"/>
<line x1="115.38" y1="19.9" x2="115.38" y2="20.8" stroke="#7c7cc6" stroke-width="0.5" />
<line x1="118.51" y1="14.8" x2="118.51" y2="17.4" stroke="#9494d2" stroke-width="1.2" />
<line x1="118.51" y1="17.6" x2="118.51" y2="19.6" stroke="#b4b4e4" stroke-width="1.2" stroke-dasharray="1.0 0.5"/>
<line x1="118.51" y1="19.9" x2="118.51" y2="20.8" stroke="#7c7cc6" stroke-width="0.5" />
<line x1="121.64" y1="14.8" x2="121.64" y2="17.4" stroke="#9494d2" stroke-width="1.2" />
<line x1="121.64" y1="17.6" x2="121.64" y2="19.6" stroke="#b4b4e4" stroke-width="1.2" stroke-dasharray="1.0 0.5"/>
<line x1="121.64" y1="19.9" x2="121.64" y2="20.8" stroke="#7c7cc6" stroke-width="0.5" />
<line x1="124.76" y1="14.8" x2="124.76" y2="17.4" stroke="#9494d2" stroke-width="1.2" />
<line x1="124.76" y1="17.6" x2="124.76" y2="19.6" stroke="#b4b4e4" stroke-width="1.2" stroke-dasharray="1.0 0.5"/>
<line x1="124.76" y1="19.9" x2="124.76" y2="20.8" stroke="#7c7cc6" stroke-width="0.5" />
<line x1="127.89" y1="14.8" x2="127.89" y2="17.4" stroke="#9494d2" stroke-width="1.2" />
<line x1="127.89" y1="17.6" x2="127.89" y2="19.6" stroke="#b4b4e4" stroke-width="1.2" stroke-dasharray="1.0 0.5"/>
<line x1="127.89" y1="19.9" x2="127.89" y2="20.8" stroke="#7c7cc6" stroke-width="0.5" />
<line x1="131.01" y1="14.8" x2="131.01" y2="17.4" stroke="#9494d2" stroke-width="1.2" />
<line x1="131.01" y1="17.6" x2="131.01" y2="19.6" stroke="#b4b4e4" stroke-width="1.2" stroke-dasharray="1.0 0.5"/>
<line x1="131.01" y1="19.9" x2="131.01" y2="20.8" stroke="#7c7cc6" stroke-width="0.5" />
<line x1="134.14" y1="14.8" x2="134.14" y2="17.4" stroke="#9494d2" stroke-width="1.2" />
<line x1="134.14" y1="17.6" x2="134.14" y2="19.6" stroke="#b4b4e4" stroke-width="1.2" stroke-dasharray="1.0 0.5"/>
<line x1="134.14" y1="19.9" x2="134.14" y2="20.8" stroke="#7c7cc6" stroke-width="0.5" />
<line x1="137.27" y1="14.8" x2="137.27" y2="17.4" stroke="#9494d2" stroke-width="1.2" />
<line x1="137.27" y1="17.6" x2="137.27" y2="19.6" stroke="#b4b4e4" stroke-width="1.2" stroke-dasharray="1.0 0.5"/>
<line x1="137.27" y1="19.9" x2="137.27" y2="20.8" stroke="#7c7cc6" stroke-width="0.5" />
<line x1="140.39" y1="14.8" x2="140.39" y2="17.4" stroke="#9494d2" stroke-width="1.2" />
<line x1="140.39" y1="17.6" x2="140.39" y2="19.6" stroke="#b4b4e4" stroke-width="1.2" stroke-dasharray="1.0 0.5"/>
<line x1="140.39" y1="19.9" x2="140.39" y2="20.8" stroke="#7c7cc6" stroke-width="0.5" />
<line x1="143.52" y1="14.8" x2="143.52" y2="17.4" stroke="#9494d2" stroke-width="1.2" />
<line x1="143.52" y1="17.6" x2="143.52" y2="19.6" stroke="#b4b4e4" stroke-width="1.2" stroke-dasharray="1.0 0.5"/>
<line x1="143.52" y1="19.9" x2="143.52" y2="20.8" stroke="#7c7cc6" stroke-width="0.5" />
<line x1="146.64" y1="14.8" x2="146.64" y2="17.4" stroke="#9494d2" stroke-width="1.2" />
<line x1="146.64" y1="17.6" x2="146.64" y2="19.6" stroke="#b4b4e4" stroke-width="1.2" stroke-dasharray="1.0 0.5"/>
<line x1="146.64" y1="19.9" x2="146.64" y2="20.8" stroke="#7c7cc6" stroke-width="0.5" />
<line x1="149.77" y1="14.8" x2="149.77" y2="17.4" stroke="#9494d2" stroke-width="1.2" />
<line x1="149.77" y1="17.6" x2="149.77" y2="19.6" stroke="#b4b4e4" stroke-width="1.2" stroke-dasharray="1.0 0.5"/>
<line x1="149.77" y1="19.9" x2="149.77" y2="20.8" stroke="#7c7cc6" stroke-width="0.5" />
<line x1="152.9" y1="14.8" x2="152.9" y2="17.4" stroke="#9494d2" stroke-width="1.2" />
<line x1="152.9" y1="17.6" x2="152.9" y2="19.6" stroke="#b4b4e4" stroke-width="1.2" stroke-dasharray="1.0 0.5"/>
<line x1="152.9" y1="19.9" x2="152.9" y2="20.8" stroke="#7c7cc6" stroke-width="0.5" />
<line x1="156.02" y1="14.8" x2="156.02" y2="17.4" stroke="#9494d2" stroke-width="1.2" />
<line x1="156.02" y1="17.6" x2="156.02" y2="19.6" stroke="#b4b4e4" stroke-width="1.2" stroke-dasharray="1.0 0.5"/>
<line x1="156.02" y1="19.9" x2="156.02" y2="20.8" stroke="#7c7cc6" stroke-width="0.5" />
<line x1="159.15" y1="14.8" x2="159.15" y2="17.4" stroke="#9494d2" stroke-width="1.2" />
<line x1="159.15" y1="17.6" x2="159.15" y2="19.6" stroke="#b4b4e4" stroke-width="1.2" stroke-dasharray="1.0 0.5"/>
<line x1="159.15" y1="19.9" x2="159.15" y2="20.8" stroke="#7c7cc6" stroke-width="0.5" />
<line x1="162.27" y1="14.8" x2="162.27" y2="17.4" stroke="#9494d2" stroke-width="1.2" />
<line x1="162.27" y1="17.6" x2="162.27" y2="19.6" stroke="#b4b4e4" stroke-width="1.2" stroke-dasharray="1.0 0.5"/>
<line x1="162.27" y1="19.9" x2="162.27" y2="20.8" stroke="#7c7cc6" stroke-width="0.5" />
<line x1="165.4" y1="14.8" x2="165.4" y2="17.4" stroke="#9494d2" stroke-width="1.2" />
<line x1="165.4" y1="17.6" x2="165.4" y2="19.6" stroke="#b4b4e4" stroke-width="1.2" stroke-dasharray="1.0 0.5"/>
<line x1="165.4" y1="19.9" x2="165.4" y2="20.8" stroke="#7c7cc6" stroke-width="0.5" />
<line x1="168.53" y1="14.8" x2="168.53" y2="17.4" stroke="#9494d2" stroke-width="1.2" />
<line x1="168.53" y1="17.6" x2="168.53" y2="19.6" stroke="#b4b4e4" stroke-width="1.2" stroke-dasharray="1.0 0.5"/>
<line x1="168.53" y1="19.9" x2="168.53" y2="20.8" stroke="#7c7cc6" stroke-width="0.5" />
<line x1="171.65" y1="14.8" x2="171.65" y2="17.4" stroke="#9494d2" stroke-width="1.2" />
<line x1="171.65" y1="17.6" x2="171.65" y2="19.6" stroke="#b4b4e4" stroke-width="1.2" stroke-dasharray="1.0 0.5"/>
<line x1="171.65" y1="19.9" x2="171.65" y2="20.8" stroke="#7c7cc6" stroke-width="0.5" />
<line x1="174.78" y1="14.8" x2="174.78" y2="17.4" stroke="#9494d2" stroke-width="1.2" />
<line x1="174.78" y1="17.6" x2="174.78" y2="19.6" stroke="#b4b4e4" stroke-width="1.2" stroke-dasharray="1.0 0.5"/>
<line x1="174.78" y1="19.9" x2="174.78" y2="20.8" stroke="#7c7cc6" stroke-width="0.5" />
<line x1="177.9" y1="14.8" x2="177.9" y2="17.4" stroke="#9494d2" stroke-width="1.2" />
<line x1="177.9" y1="17.6" x2="177.9" y2="19.6" stroke="#b4b4e4" stroke-width="1.2" stroke-dasharray="1.0 0.5"/>
<line x1="177.9" y1="19.9" x2="177.9" y2="20.8" stroke="#7c7cc6" stroke-width="0.5" />
<line x1="181.03" y1="14.8" x2="181.03" y2="17.4" stroke="#9494d2" stroke-width="1.2" />
<line x1="181.03" y1="17.6" x2="181.03" y2="19.6" stroke="#b4b4e4" stroke-width="1.2" stroke-dasharray="1.0 0.5"/>
<line x1="181.03" y1="19.9" x2="181.03" y2="20.8" stroke="#7c7cc6" stroke-width="0.5" />
<line x1="184.16" y1="14.8" x2="184.16" y2="17.4" stroke="#9494d2" stroke-width="1.2" />
<line x1="184.16" y1="17.6" x2="184.16" y2="19.6" stroke="#b4b4e4" stroke-width="1.2" stroke-dasharray="1.0 0.5"/>
<line x1="184.16" y1="19.9" x2="184.16" y2="20.8" stroke="#7c7cc6" stroke-width="0.5" />
<line x1="187.28" y1="14.8" x2="187.28" y2="17.4" stroke="#9494d2" stroke-width="1.2" />
<line x1="187.28" y1="17.6" x2="187.28" y2="19.6" stroke="#b4b4e4" stroke-width="1.2" stroke-dasharray="1.0 0.5"/>
<line x1="187.28" y1="19.9" x2="187.28" y2="20.8" stroke="#7c7cc6" stroke-width="0.5" />
<line x1="190.41" y1="14.8" x2="190.41" y2="17.4" stroke="#9494d2" stroke-width="1.2" />
<line x1="190.41" y1="17.6" x2="190.41" y2="19.6" stroke="#b4b4e4" stroke-width="1.2" stroke-dasharray="1.0 0.5"/>
<line x1="190.41" y1="19.9" x2="190.41" y2="20.8" stroke="#7c7cc6" stroke-width="0.5" />
<line x1="193.53" y1="14.8" x2="193.53" y2="17.4" stroke="#9494d2" stroke-width="1.2" />
<line x1="193.53" y1="17.6" x2="193.53" y2="19.6" stroke="#b4b4e4" stroke-width="1.2" stroke-dasharray="1.0 0.5"/>
<line x1="193.53" y1="19.9" x2="193.53" y2="20.8" stroke="#7c7cc6" stroke-width="0.5" />
<line x1="196.66" y1="14.8" x2="196.66" y2="17.4" stroke="#9494d2" stroke-width="1.2" />
<line x1="196.66" y1="17.6" x2="196.66" y2="19.6" stroke="#b4b4e4" stroke-width="1.2" stroke-dasharray="1.0 0.5"/>
<line x1="196.66" y1="19.9" x2="196.66" y2="20.8" stroke="#7c7cc6" stroke-width="0.5" />
<line x1="199.79" y1="14.8" x2="199.79" y2="17.4" stroke="#9494d2" stroke-width="1.2" />
<line x1="199.79" y1="17.6" x2="199.79" y2="19.6" stroke="#b4b4e4" stroke-width="1.2" stroke-dasharray="1.0 0.5"/>
<line x1="199.79" y1="19.9" x2="199.79" y2="20.8" stroke="#7c7cc6" stroke-width="0.5" />
<line x1="202.91" y1="14.8" x2="202.91" y2="17.4" stroke="#9494d2" stroke-width="1.2" />
<line x1="202.91" y1="17.6" x2="202.91" y2="19.6" stroke="#b4b4e4" stroke-width="1.2" stroke-dasharray="1.0 0.5"/>
<line x1="202.91" y1="19.9" x2="202.91" y2="20.8" stroke="#7c7cc6" stroke-width="0.5" />
<line x1="206.04" y1="14.8" x2="206.04" y2="17.4" stroke="#9494d2" stroke-width="1.2" />
<line x1="206.04" y1="17.6" x2="206.04" y2="19.6" stroke="#b4b4e4" stroke-width="1.2" stroke-dasharray="1.0 0.5"/>
<line x1="206.04" y1="19.9" x2="206.04" y2="20.8" stroke="#7c7cc6" stroke-width="0.5" />
<line x1="209.16" y1="14.8" x2="209.16" y2="17.4" stroke="#9494d2" stroke-width="1.2" />
<line x1="209.16" y1="17.6" x2="209.16" y2="19.6" stroke="#b4b4e4" stroke-width="1.2" stroke-dasharray="1.0 0.5"/>
<line x1="209.16" y1="19.9" x2="209.16" y2="20.8" stroke="#7c7cc6" stroke-width="0.5" />
<line x1="212.29" y1="14.8" x2="212.29" y2="17.4" stroke="#9494d2" stroke-width="1.2" />
<line x1="212.29" y1="17.6" x2="212.29" y2="19.6" stroke="#b4b4e4" stroke-width="1.2" stroke-dasharray="1.0 0.5"/>
<line x1="212.29" y1="19.9" x2="212.29" y2="20.8" stroke="#7c7cc6" stroke-width="0.5" />
<line x1="215.42" y1="14.8" x2="215.42" y2="17.4" stroke="#9494d2" stroke-width="1.2" />
<line x1="215.42" y1="17.6" x2="215.42" y2="19.6" stroke="#b4b4e4" stroke-width="1.2" stroke-dasharray="1.0 0.5"/>
<line x1="215.42" y1="19.9" x2="215.42" y2="20.8" stroke="#7c7cc6" stroke-width="0.5" />
<line x1="218.54" y1="14.8" x2="218.54" y2="17.4" stroke="#9494d2" stroke-width="1.2" />
<line x1="218.54" y1="17.6" x2="218.54" y2="19.6" stroke="#b4b4e4" stroke-width="1.2" stroke-dasharray="1.0 0.5"/>
<line x1="218.54" y1="19.9" x2="218.54" y2="20.8" stroke="#7c7cc6" stroke-width="0.5" />
<line x1="221.67" y1="14.8" x2="221.67" y2="17.4" stroke="#9494d2" stroke-width="1.2" />
<line x1="221.67" y1="17.6" x2="221.67" y2="19.6" stroke="#b4b4e4" stroke-width="1.2" stroke-dasharray="1.0 0.5"/>
<line x1="221.67" y1="19.9" x2="221.67" y2="20.8" stroke="#7c7cc6" stroke-width="0.5" />
<line x1="224.79" y1="14.8" x2="224.79" y2="17.4" stroke="#9494d2" stroke-width="1.2" />
<line x1="224.79" y1="17.6" x2="224.79" y2="19.6" stroke="#b4b4e4" stroke-width="1.2" stroke-dasharray="1.0 0.5"/>
<line x1="224.79" y1="19.9" x2="224.79" y2="20.8" stroke="#7c7cc6" stroke-width="0.5" />
<line x1="227.92" y1="14.8" x2="227.92" y2="17.4" stroke="#9494d2" stroke-width="1.2" />
<line x1="227.92" y1="17.6" x2="227.92" y2="19.6" stroke="#b4b4e4" stroke-width="1.2" stroke-dasharray="1.0 0.5"/>
<line x1="227.92" y1="19.9" x2="227.92" y2="20.8" stroke="#7c7cc6" stroke-width="0.5" />
<line x1="231.05" y1="14.8" x2="231.05" y2="17.4" stroke="#9494d2" stroke-width="1.2" />
<line x1="231.05" y1="17.6" x2="231.05" y2="19.6" stroke="#b4b4e4" stroke-width="1.2" stroke-dasharray="1.0 0.5"/>
<line x1="231.05" y1="19.9" x2="231.05" y2="20.8" stroke="#7c7cc6" stroke-width="0.5" />
<line x1="234.17" y1="14.8" x2="234.17" y2="17.4" stroke="#9494d2" stroke-width="1.2" />
<line x1="234.17" y1="17.6" x2="234.17" y2="19.6" stroke="#b4b4e4" stroke-width="1.2" stroke-dasharray="1.0 0.5"/>
<line x1="234.17" y1="19.9" x2="234.17" y2="20.8" stroke="#7c7cc6" stroke-width="0.5" />
<line x1="237.3" y1="14.8" x2="237.3" y2="17.4" stroke="#9494d2" stroke-width="1.2" />
<line x1="237.3" y1="17.6" x2="237.3" y2="19.6" stroke="#b4b4e4" stroke-width="1.2" stroke-dasharray="1.0 0.5"/>
<line x1="237.3" y1="19.9" x2="237.3" y2="20.8" stroke="#7c7cc6" stroke-width="0.5" />
<line x1="240.42" y1="14.8" x2="240.42" y2="17.4" stroke="#9494d2" stroke-width="1.2" />
<line x1="240.42" y1="17.6" x2="240.42" y2="19.6" stroke="#b4b4e4" stroke-width="1.2" stroke-dasharray="1.0 0.5"/>
<line x1="240.42" y1="19.9" x2="240.42" y2="20.8" stroke="#7c7cc6" stroke-width="0.5" />
<line x1="243.55" y1="14.8" x2="243.55" y2="17.4" stroke="#9494d2" stroke-width="1.2" />
<line x1="243.55" y1="17.6" x2="243.55" y2="19.6" stroke="#b4b4e4" stroke-width="1.2" stroke-dasharray="1.0 0.5"/>
<line x1="243.55" y1="19.9" x2="243.55" y2="20.8" stroke="#7c7cc6" stroke-width="0.5" />
<line x1="246.68" y1="14.8" x2="246.68" y2="17.4" stroke="#9494d2" stroke-width="1.2" />
<line x1="246.68" y1="17.6" x2="246.68" y2="19.6" stroke="#b4b4e4" stroke-width="1.2" stroke-dasharray="1.0 0.5"/>
<line x1="246.68" y1="19.9" x2="246.68" y2="20.8" stroke="#7c7cc6" stroke-width="0.5" />
<line x1="249.8" y1="14.8" x2="249.8" y2="17.4" stroke="#9494d2" stroke-width="1.2" />
<line x1="249.8" y1="17.6" x2="249.8" y2="19.6" stroke="#b4b4e4" stroke-width="1.2" stroke-dasharray="1.0 0.5"/>
<line x1="249.8" y1="19.9" x2="249.8" y2="20.8" stroke="#7c7cc6" stroke-width="0.5" />
<line x1="252.93" y1="14.8" x2="252.93" y2="17.4" stroke="#9494d2" stroke-width="1.2" />
<line x1="252.93" y1="17.6" x2="252.93" y2="19.6" stroke="#b4b4e4" stroke-width="1.2" stroke-dasharray="1.0 0.5"/>
<line x1="252.93" y1="19.9" x2="252.93" y2="20.8" stroke="#7c7cc6" stroke-width="0.5" />
<line x1="256.05" y1="14.8" x2="256.05" y2="17.4" stroke="#9494d2" stroke-width="1.2" />
<line x1="256.05" y1="17.6" x2="256.05" y2="19.6" stroke="#b4b4e4" stroke-width="1.2" stroke-dasharray="1.0 0.5"/>
<line x1="256.05" y1="19.9" x2="256.05" y2="20.8" stroke="#7c7cc6" stroke-width="0.5" />
<line x1="259.18" y1="14.8" x2="259.18" y2="17.4" stroke="#9494d2" stroke-width="1.2" />
<line x1="259.18" y1="17.6" x2="259.18" y2="19.6" stroke="#b4b4e4" stroke-width="1.2" stroke-dasharray="1.0 0.5"/>
<line x1="259.18" y1="19.9" x2="259.18" y2="20.8" stroke="#7c7cc6" stroke-width="0.5" />
<line x1="262.31" y1="14.8" x2="262.31" y2="17.4" stroke="#9494d2" stroke-width="1.2" />
<line x1="262.31" y1="17.6" x2="262.31" y2="19.6" stroke="#b4b4e4" stroke-width="1.2" stroke-dasharray="1.0 0.5"/>
<line x1="262.31" y1="19.9" x2="262.31" y2="20.8" stroke="#7c7cc6" stroke-width="0.5" />
<line x1="265.43" y1="14.8" x2="265.43" y2="17.4" stroke="#9494d2" stroke-width="1.2" />
<line x1="265.43" y1="17.6" x2="265.43" y2="19.6" stroke="#b4b4e4" stroke-width="1.2" stroke-dasharray="1.0 0.5"/>
<line x1="265.43" y1="19.9" x2="265.43" y2="20.8" stroke="#7c7cc6" stroke-width="0.5" />
<line x1="268.56" y1="14.8" x2="268.56" y2="17.4" stroke="#9494d2" stroke-width="1.2" />
<line x1="268.56" y1="17.6" x2="268.56" y2="19.6" stroke="#b4b4e4" stroke-width="1.2" stroke-dasharray="1.0 0.5"/>
<line x1="268.56" y1="19.9" x2="268.56" y2="20.8" stroke="#7c7cc6" stroke-width="0.5" />
<line x1="271.68" y1="14.8" x2="271.68" y2="17.4" stroke="#9494d2" stroke-width="1.2" />
<line x1="271.68" y1="17.6" x2="271.68" y2="19.6" stroke="#b4b4e4" stroke-width="1.2" stroke-dasharray="1.0 0.5"/>
<line x1="271.68" y1="19.9" x2="271.68" y2="20.8" stroke="#7c7cc6" stroke-width="0.5" />
<path d="M8,22.2 L200,22.3 L240,22.6 L262,22.4 L272,21.2" stroke="#14147c" stroke-width="1.5" fill="none" stroke-linejoin="round"/>
<path d="M8.5,21.3 L11,23.5 M12,22.3 L13.5,24.5" stroke="#1f1f8f" stroke-width="0.5" fill="none"/>
<line x1="340.8" y1="15.2" x2="340.8" y2="26.8" stroke="#a4a4dc" stroke-width="1.25" stroke-dasharray="1.0 0.5"/>
<line x1="362.4" y1="15.2" x2="362.4" y2="23.8" stroke="#a4a4dc" stroke-width="1.25" stroke-dasharray="1.0 0.5"/>
<line x1="365.2" y1="15.2" x2="365.2" y2="23.8" stroke="#a4a4dc" stroke-width="1.25" stroke-dasharray="1.0 0.5"/>
<line x1="362.4" y1="23.8" x2="363.8" y2="26.6" stroke="#1f1f8f" stroke-width="0.45" />
<line x1="365.2" y1="23.8" x2="363.8" y2="26.6" stroke="#1f1f8f" stroke-width="0.45" />
<line x1="380.4" y1="15.2" x2="380.4" y2="23.8" stroke="#a4a4dc" stroke-width="1.25" stroke-dasharray="1.0 0.5"/>
<line x1="383.2" y1="15.2" x2="383.2" y2="23.8" stroke="#a4a4dc" stroke-width="1.25" stroke-dasharray="1.0 0.5"/>
<line x1="380.4" y1="23.8" x2="381.9" y2="26.6" stroke="#1f1f8f" stroke-width="0.45" />
<line x1="383.2" y1="23.8" x2="381.9" y2="26.6" stroke="#1f1f8f" stroke-width="0.45" />
<line x1="389.7" y1="15.2" x2="389.7" y2="23.8" stroke="#a4a4dc" stroke-width="1.25" stroke-dasharray="1.0 0.5"/>
<line x1="393" y1="15.2" x2="393" y2="23.8" stroke="#a4a4dc" stroke-width="1.25" stroke-dasharray="1.0 0.5"/>
<line x1="396.3" y1="15.2" x2="396.3" y2="23.8" stroke="#a4a4dc" stroke-width="1.25" stroke-dasharray="1.0 0.5"/>
<line x1="389.7" y1="23.8" x2="393.1" y2="26.6" stroke="#1f1f8f" stroke-width="0.45" />
<line x1="393" y1="23.8" x2="393.1" y2="26.6" stroke="#1f1f8f" stroke-width="0.45" />
<line x1="396.3" y1="23.8" x2="393.1" y2="26.6" stroke="#1f1f8f" stroke-width="0.45" />
<line x1="401" y1="15.2" x2="401" y2="26.8" stroke="#a4a4dc" stroke-width="1.25" stroke-dasharray="1.0 0.5"/>
<line x1="449.2" y1="15.2" x2="449.2" y2="23.8" stroke="#a4a4dc" stroke-width="1.25" stroke-dasharray="1.0 0.5"/>
<line x1="452.84" y1="15.2" x2="452.84" y2="23.8" stroke="#a4a4dc" stroke-width="1.25" stroke-dasharray="1.0 0.5"/>
<line x1="456.48" y1="15.2" x2="456.48" y2="23.8" stroke="#a4a4dc" stroke-width="1.25" stroke-dasharray="1.0 0.5"/>
<line x1="460.12" y1="15.2" x2="460.12" y2="23.8" stroke="#a4a4dc" stroke-width="1.25" stroke-dasharray="1.0 0.5"/>
<line x1="463.76" y1="15.2" x2="463.76" y2="23.8" stroke="#a4a4dc" stroke-width="1.25" stroke-dasharray="1.0 0.5"/>
<line x1="467.4" y1="15.2" x2="467.4" y2="23.8" stroke="#a4a4dc" stroke-width="1.25" stroke-dasharray="1.0 0.5"/>
<line x1="449.2" y1="23.8" x2="454.1" y2="26.6" stroke="#1f1f8f" stroke-width="0.45" />
<line x1="452.84" y1="23.8" x2="454.1" y2="26.6" stroke="#1f1f8f" stroke-width="0.45" />
<line x1="456.48" y1="23.8" x2="456" y2="26.6" stroke="#1f1f8f" stroke-width="0.45" />
<line x1="460.12" y1="23.8" x2="456.8" y2="26.6" stroke="#1f1f8f" stroke-width="0.45" />
<line x1="463.76" y1="23.8" x2="456.8" y2="26.6" stroke="#1f1f8f" stroke-width="0.45" />
<line x1="467.4" y1="23.8" x2="462.1" y2="26.6" stroke="#1f1f8f" stroke-width="0.45" />
<line x1="470.9" y1="15.2" x2="470.9" y2="23.8" stroke="#a4a4dc" stroke-width="1.25" stroke-dasharray="1.0 0.5"/>
<line x1="474.52" y1="15.2" x2="474.52" y2="23.8" stroke="#a4a4dc" stroke-width="1.25" stroke-dasharray="1.0 0.5"/>
<line x1="478.14" y1="15.2" x2="478.14" y2="23.8" stroke="#a4a4dc" stroke-width="1.25" stroke-dasharray="1.0 0.5"/>
<line x1="481.76" y1="15.2" x2="481.76" y2="23.8" stroke="#a4a4dc" stroke-width="1.25" stroke-dasharray="1.0 0.5"/>
<line x1="485.38" y1="15.2" x2="485.38" y2="23.8" stroke="#a4a4dc" stroke-width="1.25" stroke-dasharray="1.0 0.5"/>
<line x1="489" y1="15.2" x2="489" y2="23.8" stroke="#a4a4dc" stroke-width="1.25" stroke-dasharray="1.0 0.5"/>
<line x1="470.9" y1="23.8" x2="470.9" y2="26.6" stroke="#1f1f8f" stroke-width="0.45" />
<line x1="474.52" y1="23.8" x2="470.9" y2="26.6" stroke="#1f1f8f" stroke-width="0.45" />
<line x1="478.14" y1="23.8" x2="474.8" y2="26.6" stroke="#1f1f8f" stroke-width="0.45" />
<line x1="481.76" y1="23.8" x2="481.6" y2="26.6" stroke="#1f1f8f" stroke-width="0.45" />
<line x1="485.38" y1="23.8" x2="481.6" y2="26.6" stroke="#1f1f8f" stroke-width="0.45" />
<line x1="489" y1="23.8" x2="488.6" y2="26.6" stroke="#1f1f8f" stroke-width="0.45" />
<line x1="495.3" y1="15.2" x2="495.3" y2="23.8" stroke="#a4a4dc" stroke-width="1.25" stroke-dasharray="1.0 0.5"/>
<line x1="498.68" y1="15.2" x2="498.68" y2="23.8" stroke="#a4a4dc" stroke-width="1.25" stroke-dasharray="1.0 0.5"/>
<line x1="502.06" y1="15.2" x2="502.06" y2="23.8" stroke="#a4a4dc" stroke-width="1.25" stroke-dasharray="1.0 0.5"/>
<line x1="505.44" y1="15.2" x2="505.44" y2="23.8" stroke="#a4a4dc" stroke-width="1.25" stroke-dasharray="1.0 0.5"/>
<line x1="508.82" y1="15.2" x2="508.82" y2="23.8" stroke="#a4a4dc" stroke-width="1.25" stroke-dasharray="1.0 0.5"/>
<line x1="512.2" y1="15.2" x2="512.2" y2="23.8" stroke="#a4a4dc" stroke-width="1.25" stroke-dasharray="1.0 0.5"/>
<line x1="515.58" y1="15.2" x2="515.58" y2="23.8" stroke="#a4a4dc" stroke-width="1.25" stroke-dasharray="1.0 0.5"/>
<line x1="518.96" y1="15.2" x2="518.96" y2="23.8" stroke="#a4a4dc" stroke-width="1.25" stroke-dasharray="1.0 0.5"/>
<line x1="522.34" y1="15.2" x2="522.34" y2="23.8" stroke="#a4a4dc" stroke-width="1.25" stroke-dasharray="1.0 0.5"/>
<line x1="525.72" y1="15.2" x2="525.72" y2="23.8" stroke="#a4a4dc" stroke-width="1.25" stroke-dasharray="1.0 0.5"/>
<line x1="529.1" y1="15.2" x2="529.1" y2="23.8" stroke="#a4a4dc" stroke-width="1.25" stroke-dasharray="1.0 0.5"/>
<line x1="532.48" y1="15.2" x2="532.48" y2="23.8" stroke="#a4a4dc" stroke-width="1.25" stroke-dasharray="1.0 0.5"/>
<line x1="535.86" y1="15.2" x2="535.86" y2="23.8" stroke="#a4a4dc" stroke-width="1.25" stroke-dasharray="1.0 0.5"/>
<line x1="539.24" y1="15.2" x2="539.24" y2="23.8" stroke="#a4a4dc" stroke-width="1.25" stroke-dasharray="1.0 0.5"/>
<line x1="542.62" y1="15.2" x2="542.62" y2="23.8" stroke="#a4a4dc" stroke-width="1.25" stroke-dasharray="1.0 0.5"/>
<line x1="546" y1="15.2" x2="546" y2="23.8" stroke="#a4a4dc" stroke-width="1.25" stroke-dasharray="1.0 0.5"/>
<line x1="495.3" y1="23.8" x2="495.4" y2="26.6" stroke="#1f1f8f" stroke-width="0.45" />
<line x1="498.68" y1="23.8" x2="497.2" y2="26.6" stroke="#1f1f8f" stroke-width="0.45" />
<line x1="502.06" y1="23.8" x2="499" y2="26.6" stroke="#1f1f8f" stroke-width="0.45" />
<line x1="505.44" y1="23.8" x2="501.2" y2="26.6" stroke="#1f1f8f" stroke-width="0.45" />
<line x1="508.82" y1="23.8" x2="502.3" y2="26.6" stroke="#1f1f8f" stroke-width="0.45" />
<line x1="512.2" y1="23.8" x2="505.3" y2="26.6" stroke="#1f1f8f" stroke-width="0.45" />
<line x1="515.58" y1="23.8" x2="508.5" y2="26.6" stroke="#1f1f8f" stroke-width="0.45" />
<line x1="518.96" y1="23.8" x2="511" y2="26.6" stroke="#1f1f8f" stroke-width="0.45" />
<line x1="522.34" y1="23.8" x2="514" y2="26.6" stroke="#1f1f8f" stroke-width="0.45" />
<line x1="525.72" y1="23.8" x2="517.7" y2="26.6" stroke="#1f1f8f" stroke-width="0.45" />
<line x1="529.1" y1="23.8" x2="518.8" y2="26.6" stroke="#1f1f8f" stroke-width="0.45" />
<line x1="532.48" y1="23.8" x2="520.2" y2="26.6" stroke="#1f1f8f" stroke-width="0.45" />
<line x1="535.86" y1="23.8" x2="523.5" y2="26.6" stroke="#1f1f8f" stroke-width="0.45" />
<line x1="539.24" y1="23.8" x2="525.7" y2="26.6" stroke="#1f1f8f" stroke-width="0.45" />
<line x1="542.62" y1="23.8" x2="532.7" y2="26.6" stroke="#1f1f8f" stroke-width="0.45" />
<line x1="546" y1="23.8" x2="535.2" y2="26.6" stroke="#1f1f8f" stroke-width="0.45" />
<path d="M521,26.2 L536,25.8 L541,24.8" stroke="#10107a" stroke-width="0.9" fill="none"/>
<path d="M84.2,152.5 C84.97,152.5 84.83,148.8 85.6,148.8" fill="none" stroke="#5aa552" stroke-width="0.55"/>
<path d="M86.5,152.5 C87.27,152.5 87.13,148.8 87.9,148.8" fill="none" stroke="#5aa552" stroke-width="0.55"/>
<path d="M92.2,153 C94.23,153 93.87,148.5 95.9,148.5" fill="none" stroke="#5aa552" stroke-width="0.55"/>
<path d="M98.3,153 C100.33,153 99.97,148.5 102,148.5" fill="none" stroke="#5aa552" stroke-width="0.55"/>
<path d="M118,153 C119.7,153 119.39,148.8 121.1,148.8" fill="none" stroke="#5aa552" stroke-width="0.55"/>
<path d="M122.3,153 C124,153 123.7,148.8 125.4,148.8" fill="none" stroke="#5aa552" stroke-width="0.55"/>
<path d="M126.6,153 C129.68,153 129.12,148.8 132.2,148.8" fill="none" stroke="#5aa552" stroke-width="0.55"/>
<path d="M196,153 C197.38,153 197.12,150 198.5,150" fill="none" stroke="#5aa552" stroke-width="0.55"/>
<path d="M200,153 C201.38,153 201.12,150 202.5,150" fill="none" stroke="#5aa552" stroke-width="0.55"/>
<path d="M209,153 C210.65,153 210.35,150 212,150" fill="none" stroke="#5aa552" stroke-width="0.55"/>
<path d="M210.7,151.4 C214,151.4 213.4,134.1 216.7,134.1" fill="none" stroke="#5aa552" stroke-width="0.55"/>
<path d="M216.4,152.4 C218.22,152.4 217.88,148.4 219.7,148.4" fill="none" stroke="#5aa552" stroke-width="0.55"/>
<path d="M222.5,152.4 C230.69,152.4 229.21,117.2 237.4,117.2" fill="none" stroke="#5aa552" stroke-width="0.55"/>
<path d="M238.7,151.7 C241.34,151.7 240.86,117.9 243.5,117.9" fill="none" stroke="#5aa552" stroke-width="0.55"/>
<path d="M244.1,148.4 C246.57,148.4 246.12,137.5 248.6,137.5" fill="none" stroke="#5aa552" stroke-width="0.55"/>
<path d="M251.6,152.4 C253.8,152.4 253.4,147.7 255.6,147.7" fill="none" stroke="#5aa552" stroke-width="0.55"/>
<path d="M255.6,151.7 C257.86,151.7 257.44,134.1 259.7,134.1" fill="none" stroke="#5aa552" stroke-width="0.55"/>
<path d="M262.4,144.3 C263.56,144.3 263.34,143 264.5,143" fill="none" stroke="#5aa552" stroke-width="0.55"/>
<line x1="84.5" y1="175.6" x2="101.5" y2="175.6" stroke="#5aa552" stroke-width="0.7" stroke-dasharray="0.8 0.5"/>
<line x1="118" y1="175.6" x2="132" y2="175.6" stroke="#5aa552" stroke-width="0.7" stroke-dasharray="0.8 0.5"/>
<line x1="195.4" y1="175.6" x2="203" y2="175.6" stroke="#5aa552" stroke-width="0.7" stroke-dasharray="0.8 0.5"/>
<line x1="209" y1="175.6" x2="220" y2="175.6" stroke="#5aa552" stroke-width="0.7" stroke-dasharray="0.8 0.5"/>
<line x1="227" y1="175.6" x2="266.5" y2="175.6" stroke="#5aa552" stroke-width="0.7" stroke-dasharray="0.8 0.5"/>
<line x1="86" y1="177.6" x2="86" y2="185.8" stroke="#a0a0da" stroke-width="1.0" stroke-dasharray="1.0 0.5"/>
<line x1="89.7" y1="177.6" x2="89.7" y2="185.8" stroke="#a0a0da" stroke-width="1.0" stroke-dasharray="1.0 0.5"/>
<line x1="93.4" y1="177.6" x2="93.4" y2="185.8" stroke="#a0a0da" stroke-width="1.0" stroke-dasharray="1.0 0.5"/>
<line x1="96.5" y1="177.6" x2="96.5" y2="185.8" stroke="#a0a0da" stroke-width="1.0" stroke-dasharray="1.0 0.5"/>
<line x1="98.9" y1="177.6" x2="98.9" y2="185.8" stroke="#a0a0da" stroke-width="1.0" stroke-dasharray="1.0 0.5"/>
<line x1="119.9" y1="177.6" x2="119.9" y2="185.8" stroke="#a0a0da" stroke-width="1.0" stroke-dasharray="1.0 0.5"/>
<line x1="123.6" y1="177.6" x2="123.6" y2="185.8" stroke="#a0a0da" stroke-width="1.0" stroke-dasharray="1.0 0.5"/>
<line x1="127.3" y1="177.6" x2="127.3" y2="185.8" stroke="#a0a0da" stroke-width="1.0" stroke-dasharray="1.0 0.5"/>
<line x1="197" y1="177.6" x2="197" y2="185.8" stroke="#a0a0da" stroke-width="1.0" stroke-dasharray="1.0 0.5"/>
<line x1="199.3" y1="177.6" x2="199.3" y2="185.8" stroke="#a0a0da" stroke-width="1.0" stroke-dasharray="1.0 0.5"/>
<line x1="212.9" y1="177.6" x2="212.9" y2="185.8" stroke="#a0a0da" stroke-width="1.0" stroke-dasharray="1.0 0.5"/>
<line x1="218.6" y1="177.6" x2="218.6" y2="185.8" stroke="#a0a0da" stroke-width="1.0" stroke-dasharray="1.0 0.5"/>
<line x1="230.5" y1="177.6" x2="230.5" y2="185.8" stroke="#a0a0da" stroke-width="1.0" stroke-dasharray="1.0 0.5"/>
<line x1="237.1" y1="177.6" x2="237.1" y2="185.8" stroke="#a0a0da" stroke-width="1.0" stroke-dasharray="1.0 0.5"/>
<line x1="239.5" y1="177.6" x2="239.5" y2="185.8" stroke="#a0a0da" stroke-width="1.0" stroke-dasharray="1.0 0.5"/>
<line x1="243.3" y1="177.6" x2="243.3" y2="185.8" stroke="#a0a0da" stroke-width="1.0" stroke-dasharray="1.0 0.5"/>
<line x1="245.3" y1="177.6" x2="245.3" y2="185.8" stroke="#a0a0da" stroke-width="1.0" stroke-dasharray="1.0 0.5"/>
<line x1="248.7" y1="177.6" x2="248.7" y2="185.8" stroke="#a0a0da" stroke-width="1.0" stroke-dasharray="1.0 0.5"/>
<line x1="251" y1="177.6" x2="251" y2="185.8" stroke="#a0a0da" stroke-width="1.0" stroke-dasharray="1.0 0.5"/>
<line x1="254.1" y1="177.6" x2="254.1" y2="185.8" stroke="#a0a0da" stroke-width="1.0" stroke-dasharray="1.0 0.5"/>
<line x1="256.5" y1="177.6" x2="256.5" y2="185.8" stroke="#a0a0da" stroke-width="1.0" stroke-dasharray="1.0 0.5"/>
<line x1="259.6" y1="177.6" x2="259.6" y2="185.8" stroke="#a0a0da" stroke-width="1.0" stroke-dasharray="1.0 0.5"/>
<line x1="262.6" y1="177.6" x2="262.6" y2="185.8" stroke="#a0a0da" stroke-width="1.0" stroke-dasharray="1.0 0.5"/>
<line x1="265.4" y1="177.6" x2="265.4" y2="185.8" stroke="#a0a0da" stroke-width="1.0" stroke-dasharray="1.0 0.5"/>
</svg></body></html>
